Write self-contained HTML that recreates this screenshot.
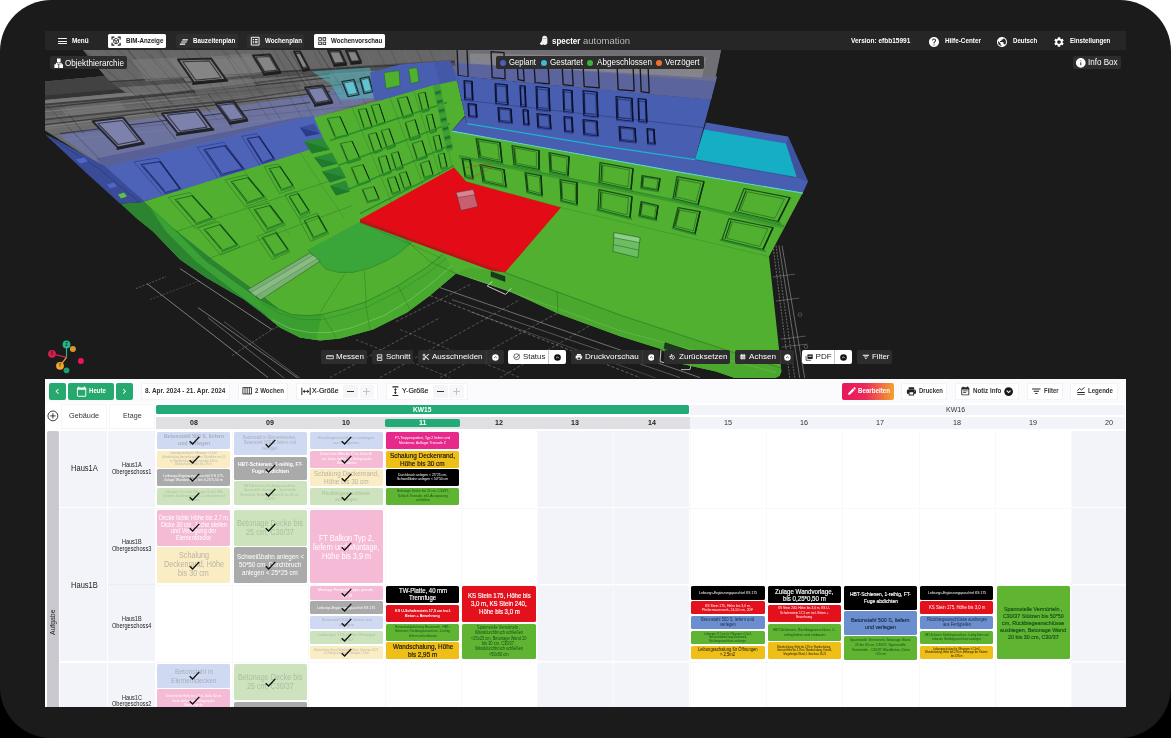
<!DOCTYPE html>
<html><head><meta charset="utf-8"><title>BIM</title>
<style>
html,body{margin:0;padding:0}
body{width:1171px;height:738px;overflow:hidden;background:linear-gradient(#fff 0,#fff 369px,#000 369px,#000 738px);font-family:"Liberation Sans",sans-serif;position:relative}
.b{position:absolute;display:block}
.t{position:absolute;white-space:nowrap;transform-origin:0 50%;display:block}
#frame{will-change:transform;position:absolute;left:0;top:0;width:1171px;height:738px;background:#1b1b1b;border-radius:51px;overflow:hidden}
</style></head><body>
<div id="frame">
<svg class="b" style="left:45px;top:50.4px" width="1080.5" height="328.1" viewBox="45 50.4 1080.5 328.1"><rect x="45" y="50.4" width="1081" height="329" fill="#1b1b1b"/><polyline points="180.0,269.0 272.0,330.0" fill="none" stroke="#cfcfcf" stroke-width="0.6" opacity="0.9"/><polyline points="147.0,284.0 268.0,378.0" fill="none" stroke="#cfcfcf" stroke-width="0.6" opacity="0.9"/><polyline points="198.0,308.0 300.0,380.0" fill="none" stroke="#cfcfcf" stroke-width="0.6" opacity="0.85"/><polyline points="208.0,318.0 286.0,380.0" fill="none" stroke="#cfcfcf" stroke-width="0.5" opacity="0.8"/><polyline points="224.0,322.0 302.0,380.0" fill="none" stroke="#cfcfcf" stroke-width="0.45" opacity="0.7"/><polyline points="136.0,289.0 166.0,277.0" fill="none" stroke="#cfcfcf" stroke-width="0.5" opacity="0.7" stroke-dasharray="2 1.5"/><polyline points="150.0,300.0 200.0,281.0" fill="none" stroke="#cfcfcf" stroke-width="0.4" opacity="0.6" stroke-dasharray="2 1.5"/><polyline points="232.0,356.0 272.0,330.0 330.0,300.0" fill="none" stroke="#cfcfcf" stroke-width="0.5" opacity="0.7" stroke-dasharray="2.5 1.5"/><polyline points="396.0,322.0 470.0,285.0" fill="none" stroke="#cfcfcf" stroke-width="0.5" opacity="0.65" stroke-dasharray="3 2"/><polyline points="330.0,378.0 440.0,318.0" fill="none" stroke="#cfcfcf" stroke-width="0.5" opacity="0.65" stroke-dasharray="3 2"/><polyline points="380.0,378.0 520.0,300.0" fill="none" stroke="#cfcfcf" stroke-width="0.5" opacity="0.65" stroke-dasharray="3 2"/><polyline points="440.0,378.0 560.0,312.0" fill="none" stroke="#cfcfcf" stroke-width="0.5" opacity="0.65" stroke-dasharray="3 2"/><polyline points="500.0,378.0 590.0,326.0" fill="none" stroke="#cfcfcf" stroke-width="0.5" opacity="0.65" stroke-dasharray="3 2"/><polyline points="440.0,288.0 700.0,378.0" fill="none" stroke="#cfcfcf" stroke-width="0.6" opacity="0.8"/><polyline points="430.0,296.0 640.0,378.0" fill="none" stroke="#cfcfcf" stroke-width="0.5" opacity="0.8" stroke-dasharray="3 2"/><polyline points="452.0,300.0 680.0,378.0" fill="none" stroke="#cfcfcf" stroke-width="0.5" opacity="0.7"/><polyline points="470.0,312.0 660.0,380.0" fill="none" stroke="#cfcfcf" stroke-width="0.4" opacity="0.6"/><polyline points="400.0,330.0 520.0,378.0" fill="none" stroke="#cfcfcf" stroke-width="0.5" opacity="0.6" stroke-dasharray="3 2"/><polyline points="356.0,340.0 450.0,378.0" fill="none" stroke="#cfcfcf" stroke-width="0.5" opacity="0.6" stroke-dasharray="3 2"/><polyline points="773.0,246.0 790.0,380.0" fill="none" stroke="#cfcfcf" stroke-width="0.55" opacity="0.8" stroke-dasharray="2 1.2"/><polyline points="776.0,246.0 795.0,380.0" fill="none" stroke="#cfcfcf" stroke-width="0.55" opacity="0.8" stroke-dasharray="2 1.2"/><polyline points="779.0,246.0 800.0,380.0" fill="none" stroke="#cfcfcf" stroke-width="0.55" opacity="0.8"/><polyline points="782.0,246.0 805.0,380.0" fill="none" stroke="#cfcfcf" stroke-width="0.55" opacity="0.8"/><polyline points="772.8,277.5 795.1,274.5" fill="none" stroke="#cfcfcf" stroke-width="0.45" opacity="0.7"/><polyline points="775.9,301.5 799.3,298.5" fill="none" stroke="#cfcfcf" stroke-width="0.45" opacity="0.7"/><polyline points="780.7,339.5 805.8,336.5" fill="none" stroke="#cfcfcf" stroke-width="0.45" opacity="0.7"/><polyline points="781.7,347.5 807.2,344.5" fill="none" stroke="#cfcfcf" stroke-width="0.45" opacity="0.7"/><circle cx="800" cy="315" r="1.800" fill="none" stroke="#cfcfcf" stroke-width="0.400" opacity="0.700"/><circle cx="806" cy="347" r="1.800" fill="none" stroke="#cfcfcf" stroke-width="0.400" opacity="0.700"/><polygon points="45.0,82.0 105.0,76.5 83.0,50.4 721.0,50.4 711.0,100.0 600.0,90.0 457.0,76.0 450.0,130.0 300.0,128.0 104.0,168.0 45.0,131.0" fill="#6b6b6b"/><polygon points="45.0,82.0 105.0,76.5 116.0,86.0 132.0,92.5 45.0,100.0" fill="#424242"/><polygon points="45.0,96.0 128.0,89.0 132.0,92.5 45.0,100.5" fill="#343434"/><polygon points="45.0,100.5 132.0,92.5 138.0,96.0 45.0,105.0" fill="#747474"/><polygon points="45.0,105.0 300.0,80.0 300.0,92.0 45.0,117.0" fill="#626262"/><polygon points="45.0,117.0 300.0,92.0 300.0,98.0 45.0,123.0" fill="#6f6f6f"/><polygon points="83.0,50.4 460.0,50.4 460.0,60.0 110.0,82.0 105.0,76.5" fill="#676767"/><polygon points="110.0,82.0 460.0,60.0 460.0,66.0 118.0,88.0" fill="#505050"/><polygon points="118.0,88.0 460.0,66.0 460.0,72.0 126.0,93.0" fill="#6c6c6c"/><polygon points="170.0,60.0 250.0,54.0 262.0,72.0 186.0,82.0" fill="#747474" stroke="None" stroke-width="0.5" stroke-linejoin="round"/><polygon points="58.0,135.0 128.0,122.0 230.0,108.0 310.0,95.0 372.0,82.0 374.0,100.0 314.0,118.0 104.0,168.0" fill="#6d739f"/><polygon points="96.0,159.0 296.0,118.0 314.0,116.0 104.0,168.0" fill="#596098"/><polyline points="45.0,108.0 330.0,78.0" fill="none" stroke="#2b2b2b" stroke-width="1.1" opacity="0.75"/><polyline points="45.0,125.0 330.0,92.0" fill="none" stroke="#2b2b2b" stroke-width="1.1" opacity="0.75"/><polyline points="60.0,134.0 310.0,103.0" fill="none" stroke="#2b2b2b" stroke-width="1.1" opacity="0.75"/><polyline points="110.0,82.0 460.0,62.0" fill="none" stroke="#2b2b2b" stroke-width="1.1" opacity="0.75"/><polyline points="83.0,50.4 132.0,92.0" fill="none" stroke="#333" stroke-width="0.7" opacity="0.6"/><polyline points="132.0,92.0 150.0,112.0" fill="none" stroke="#333" stroke-width="0.7" opacity="0.6"/><polyline points="150.0,55.0 210.0,112.0" fill="none" stroke="#333" stroke-width="0.7" opacity="0.6"/><polyline points="225.0,52.0 262.0,95.0" fill="none" stroke="#333" stroke-width="0.7" opacity="0.6"/><polyline points="290.0,52.0 320.0,100.0" fill="none" stroke="#333" stroke-width="0.7" opacity="0.6"/><polyline points="45.0,104.0 100.0,160.0" fill="none" stroke="#333" stroke-width="0.7" opacity="0.6"/><polyline points="45.0,105.0 162.0,95.0" fill="none" stroke="#3a3a3a" stroke-width="2.0" opacity="0.85"/><polyline points="162.0,95.0 330.0,74.0" fill="none" stroke="#3a3a3a" stroke-width="1.6" opacity="0.85"/><polyline points="45.0,120.0 240.0,100.0" fill="none" stroke="#404040" stroke-width="2.0" opacity="0.85"/><polyline points="240.0,100.0 372.0,80.0" fill="none" stroke="#40404a" stroke-width="1.6" opacity="0.85"/><polyline points="45.0,112.0 200.0,97.0" fill="none" stroke="#8a8a8a" stroke-width="0.8" opacity="0.85"/><polyline points="45.0,127.0 150.0,114.0" fill="none" stroke="#8c8c8c" stroke-width="0.8" opacity="0.85"/><polyline points="128.0,50.4 172.0,105.0" fill="none" stroke="#2e2e2e" stroke-width="1.0" opacity="0.55"/><polyline points="160.0,50.4 196.0,96.0" fill="none" stroke="#2e2e2e" stroke-width="1.0" opacity="0.55"/><polyline points="236.0,50.4 252.0,72.0" fill="none" stroke="#2e2e2e" stroke-width="1.0" opacity="0.55"/><polyline points="282.0,50.4 318.0,104.0" fill="none" stroke="#2e2e2e" stroke-width="1.0" opacity="0.55"/><polyline points="318.0,50.4 344.0,92.0" fill="none" stroke="#2e2e2e" stroke-width="1.0" opacity="0.55"/><polyline points="60.0,104.0 84.0,134.0" fill="none" stroke="#2e2e2e" stroke-width="1.0" opacity="0.55"/><polyline points="140.0,94.0 176.0,140.0" fill="none" stroke="#2e2e2e" stroke-width="1.0" opacity="0.55"/><polyline points="208.0,94.0 232.0,128.0" fill="none" stroke="#2e2e2e" stroke-width="1.0" opacity="0.55"/><polygon points="132.0,60.0 176.0,58.0 190.0,78.0 146.0,82.0" fill="#7c7c7c" stroke="None" stroke-width="0.5" stroke-linejoin="round" opacity="0.6"/><polygon points="214.0,60.0 250.0,57.0 262.0,74.0 226.0,78.0" fill="#7e7e7e" stroke="None" stroke-width="0.5" stroke-linejoin="round" opacity="0.6"/><polygon points="60.0,108.0 120.0,102.0 126.0,110.0 66.0,116.0" fill="#7a7a7a" stroke="None" stroke-width="0.5" stroke-linejoin="round" opacity="0.6"/><polygon points="190.0,84.0 250.0,78.0 256.0,86.0 196.0,93.0" fill="#777" stroke="None" stroke-width="0.5" stroke-linejoin="round" opacity="0.6"/><clipPath id="gclip"><polygon points="45.0,82.0 105.0,76.5 83.0,50.4 460.0,50.4 457.0,76.0 450.0,130.0 300.0,128.0 104.0,168.0 45.0,134.0"/></clipPath><g clip-path="url(#gclip)"><polyline points="92.0,50.4 174.4,120.4" fill="none" stroke="#9a9a9a" stroke-width="0.55" opacity="0.3"/><polyline points="105.0,50.4 181.8,120.4" fill="none" stroke="#262626" stroke-width="0.55" opacity="0.38"/><polyline points="118.0,50.4 189.9,120.4" fill="none" stroke="#262626" stroke-width="0.55" opacity="0.38"/><polyline points="131.0,50.4 198.6,120.4" fill="none" stroke="#9a9a9a" stroke-width="0.55" opacity="0.3"/><polyline points="144.0,50.4 207.8,120.4" fill="none" stroke="#262626" stroke-width="0.55" opacity="0.38"/><polyline points="157.0,50.4 217.4,120.4" fill="none" stroke="#262626" stroke-width="0.55" opacity="0.38"/><polyline points="170.0,50.4 227.4,120.4" fill="none" stroke="#9a9a9a" stroke-width="0.55" opacity="0.3"/><polyline points="183.0,50.4 237.6,120.4" fill="none" stroke="#262626" stroke-width="0.55" opacity="0.38"/><polyline points="196.0,50.4 248.1,120.4" fill="none" stroke="#262626" stroke-width="0.55" opacity="0.38"/><polyline points="209.0,50.4 258.8,120.4" fill="none" stroke="#9a9a9a" stroke-width="0.55" opacity="0.3"/><polyline points="222.0,50.4 269.7,120.4" fill="none" stroke="#262626" stroke-width="0.55" opacity="0.38"/><polyline points="235.0,50.4 280.8,120.4" fill="none" stroke="#262626" stroke-width="0.55" opacity="0.38"/><polyline points="248.0,50.4 292.0,120.4" fill="none" stroke="#9a9a9a" stroke-width="0.55" opacity="0.3"/><polyline points="261.0,50.4 303.4,120.4" fill="none" stroke="#262626" stroke-width="0.55" opacity="0.38"/><polyline points="274.0,50.4 314.8,120.4" fill="none" stroke="#262626" stroke-width="0.55" opacity="0.38"/><polyline points="287.0,50.4 326.4,120.4" fill="none" stroke="#9a9a9a" stroke-width="0.55" opacity="0.3"/><polyline points="300.0,50.4 329.9,105.4" fill="none" stroke="#262626" stroke-width="0.55" opacity="0.38"/><polyline points="313.0,50.4 342.0,105.4" fill="none" stroke="#262626" stroke-width="0.55" opacity="0.38"/><polyline points="326.0,50.4 354.0,105.4" fill="none" stroke="#9a9a9a" stroke-width="0.55" opacity="0.3"/><polyline points="339.0,50.4 366.2,105.4" fill="none" stroke="#262626" stroke-width="0.55" opacity="0.38"/><polyline points="352.0,50.4 378.4,105.4" fill="none" stroke="#262626" stroke-width="0.55" opacity="0.38"/><polyline points="365.0,50.4 390.6,105.4" fill="none" stroke="#9a9a9a" stroke-width="0.55" opacity="0.3"/><polyline points="378.0,50.4 402.9,105.4" fill="none" stroke="#262626" stroke-width="0.55" opacity="0.38"/><polyline points="391.0,50.4 415.2,105.4" fill="none" stroke="#262626" stroke-width="0.55" opacity="0.38"/><polyline points="404.0,50.4 427.6,105.4" fill="none" stroke="#9a9a9a" stroke-width="0.55" opacity="0.3"/><polyline points="417.0,50.4 440.0,105.4" fill="none" stroke="#262626" stroke-width="0.55" opacity="0.38"/><polyline points="430.0,50.4 452.4,105.4" fill="none" stroke="#262626" stroke-width="0.55" opacity="0.38"/><polyline points="443.0,50.4 464.9,105.4" fill="none" stroke="#9a9a9a" stroke-width="0.55" opacity="0.3"/><polyline points="45.0,103.0 400.0,69.3" fill="none" stroke="#a0a0a0" stroke-width="0.5" opacity="0.33"/><polyline points="45.0,110.0 400.0,76.3" fill="none" stroke="#262626" stroke-width="0.5" opacity="0.33"/><polyline points="45.0,115.0 400.0,81.3" fill="none" stroke="#a0a0a0" stroke-width="0.5" opacity="0.33"/><polyline points="45.0,122.0 400.0,88.3" fill="none" stroke="#262626" stroke-width="0.5" opacity="0.33"/><polyline points="45.0,129.0 400.0,95.3" fill="none" stroke="#a0a0a0" stroke-width="0.5" opacity="0.33"/><polyline points="45.0,136.0 400.0,102.3" fill="none" stroke="#262626" stroke-width="0.5" opacity="0.33"/><polyline points="45.0,142.0 400.0,108.3" fill="none" stroke="#a0a0a0" stroke-width="0.5" opacity="0.33"/></g><polygon points="178.0,60.0 211.0,59.0 226.0,80.0 194.0,83.0" fill="#858585" stroke="#242424" stroke-width="2.0" stroke-linejoin="round"/><polygon points="182.8,62.1 209.2,61.3 221.2,78.1 195.7,80.5" fill="none" stroke="#242424" stroke-width="1.1" stroke-linejoin="round" opacity="0.8"/><polygon points="192.1,83.2 227.9,79.8 228.2,82.0 192.4,85.4" fill="#1e1e1e"/><polygon points="253.0,56.0 270.0,55.0 280.0,72.0 264.0,74.0" fill="#858585" stroke="#242424" stroke-width="2.0" stroke-linejoin="round"/><polygon points="255.8,57.6 269.4,56.9 277.4,70.5 264.6,72.0" fill="none" stroke="#242424" stroke-width="1.1" stroke-linejoin="round" opacity="0.8"/><polygon points="263.0,74.1 281.0,71.9 281.3,74.1 263.3,76.3" fill="#1e1e1e"/><polygon points="294.0,52.0 300.0,52.0 309.0,69.0 303.0,70.0" fill="#858585" stroke="#242424" stroke-width="2.0" stroke-linejoin="round"/><polygon points="295.5,53.8 300.3,53.8 307.5,67.3 302.7,68.2" fill="none" stroke="#242424" stroke-width="1.1" stroke-linejoin="round" opacity="0.8"/><polygon points="302.6,70.1 309.4,68.9 309.7,71.1 302.9,72.3" fill="#1e1e1e"/><polygon points="328.0,51.0 340.0,51.0 346.0,64.0 334.0,65.0" fill="#858585" stroke="#242424" stroke-width="2.0" stroke-linejoin="round"/><polygon points="329.8,52.4 339.4,52.4 344.2,62.8 334.6,63.5" fill="none" stroke="#242424" stroke-width="1.1" stroke-linejoin="round" opacity="0.8"/><polygon points="333.3,65.1 346.7,63.9 347.0,66.1 333.6,67.3" fill="#1e1e1e"/><polygon points="346.0,51.0 356.0,51.0 361.0,62.0 351.0,63.0" fill="#858585" stroke="#242424" stroke-width="2.0" stroke-linejoin="round"/><polygon points="347.5,52.1 355.5,52.1 359.5,61.0 351.5,61.8" fill="none" stroke="#242424" stroke-width="1.1" stroke-linejoin="round" opacity="0.8"/><polygon points="350.4,63.1 361.6,61.9 361.9,64.1 350.7,65.3" fill="#1e1e1e"/><polygon points="92.5,121.7 123.0,118.0 143.0,143.0 118.0,148.0" fill="#7d82ac" stroke="#26262c" stroke-width="2.0" stroke-linejoin="round"/><polygon points="97.8,123.9 122.2,120.9 138.2,140.9 118.2,144.9" fill="none" stroke="#26262c" stroke-width="1.1" stroke-linejoin="round" opacity="0.8"/><polygon points="116.5,148.3 144.5,142.7 144.8,144.9 116.8,150.5" fill="#202028"/><polygon points="162.0,114.0 198.0,110.0 212.0,129.0 178.0,134.0" fill="#7d82ac" stroke="#26262c" stroke-width="2.0" stroke-linejoin="round"/><polygon points="167.1,115.5 195.9,112.3 207.1,127.5 179.9,131.6" fill="none" stroke="#26262c" stroke-width="1.1" stroke-linejoin="round" opacity="0.8"/><polygon points="176.0,134.3 214.0,128.7 214.3,130.9 176.3,136.5" fill="#202028"/><polygon points="216.0,104.0 234.0,102.0 247.0,120.0 230.0,123.0" fill="#7d82ac" stroke="#26262c" stroke-width="2.0" stroke-linejoin="round"/><polygon points="219.2,105.7 233.6,104.0 243.9,118.5 230.3,120.8" fill="none" stroke="#26262c" stroke-width="1.1" stroke-linejoin="round" opacity="0.8"/><polygon points="229.0,123.2 248.0,119.8 248.3,122.0 229.3,125.4" fill="#202028"/><polygon points="305.0,88.0 323.0,86.0 332.0,102.0 315.0,105.0" fill="#7d82ac" stroke="#26262c" stroke-width="2.0" stroke-linejoin="round"/><polygon points="307.8,89.5 322.1,87.8 329.4,100.7 315.8,103.0" fill="none" stroke="#26262c" stroke-width="1.1" stroke-linejoin="round" opacity="0.8"/><polygon points="314.0,105.2 333.0,101.8 333.3,104.0 314.3,107.4" fill="#202028"/><polygon points="312.0,72.0 370.0,68.0 378.0,98.0 340.0,100.0 330.0,84.0" fill="#4fb4c0" stroke="None" stroke-width="0.5" stroke-linejoin="round" opacity="0.55"/><polygon points="342.0,82.0 354.0,80.0 359.0,95.0 348.0,97.0" fill="#63c3cf" stroke="#1b2a30" stroke-width="1.3" stroke-linejoin="round"/><polygon points="343.8,83.3 353.4,81.7 357.4,93.7 348.6,95.3" fill="none" stroke="#1b2a30" stroke-width="0.7150000000000001" stroke-linejoin="round" opacity="0.8"/><polygon points="360.0,79.0 369.0,77.0 373.0,92.0 364.0,94.0" fill="#63c3cf" stroke="#1b2a30" stroke-width="1.3" stroke-linejoin="round"/><polygon points="361.3,80.3 368.5,78.7 371.7,90.7 364.5,92.3" fill="none" stroke="#1b2a30" stroke-width="0.7150000000000001" stroke-linejoin="round" opacity="0.8"/><polygon points="455.0,50.4 721.0,50.4 711.0,100.0 600.0,90.0 457.0,76.0" fill="#707074"/><polygon points="455.0,63.5 600.0,73.0 716.0,81.5 711.0,100.0 600.0,90.0 457.0,76.0" fill="#5c649e"/><polygon points="455.0,60.0 600.0,69.0 717.0,77.0 716.0,81.5 600.0,73.0 455.0,63.5" fill="#6c6f8c"/><polygon points="470.0,54.0 706.0,58.0 702.0,78.0 470.0,64.0" fill="#9a9a9e" stroke="None" stroke-width="0.5" stroke-linejoin="round" opacity="0.5"/><polygon points="457.0,48.0 467.0,49.0 468.2,77.2 458.2,76.0" fill="none" stroke="#15151c" stroke-width="1.3" stroke-linejoin="round"/><polygon points="491.0,52.0 504.0,53.0 505.2,79.2 492.2,78.0" fill="none" stroke="#15151c" stroke-width="1.3" stroke-linejoin="round"/><polygon points="517.0,63.0 523.0,64.0 524.2,81.2 518.2,80.0" fill="none" stroke="#15151c" stroke-width="1.3" stroke-linejoin="round"/><polygon points="534.0,64.0 548.0,65.0 549.2,84.2 535.2,83.0" fill="none" stroke="#15151c" stroke-width="1.3" stroke-linejoin="round"/><polygon points="562.0,64.0 572.0,65.0 573.2,86.2 563.2,85.0" fill="none" stroke="#15151c" stroke-width="1.3" stroke-linejoin="round"/><polygon points="583.0,64.0 598.0,65.0 599.2,88.2 584.2,87.0" fill="none" stroke="#15151c" stroke-width="1.3" stroke-linejoin="round"/><polygon points="617.0,64.0 633.0,65.0 634.2,91.2 618.2,90.0" fill="none" stroke="#15151c" stroke-width="1.3" stroke-linejoin="round"/><polygon points="640.0,64.0 648.0,65.0 649.2,93.2 641.2,92.0" fill="none" stroke="#15151c" stroke-width="1.3" stroke-linejoin="round"/><polygon points="104.0,168.0 314.0,116.0 328.0,146.0 144.0,202.0" fill="#4d63b8"/><polygon points="133.8,162.2 158.1,158.3 183.7,192.9 164.5,198.0" fill="none" stroke="#26337a" stroke-width="0.6" stroke-linejoin="round" opacity="0.9"/><polygon points="141.0,165.0 160.0,162.0 180.0,189.0 165.0,193.0" fill="none" stroke="#26337a" stroke-width="1.1" stroke-linejoin="round"/><polyline points="160.0,162.0 180.0,189.0" fill="none" stroke="#1a2460" stroke-width="1.375"/><polyline points="143.5,166.5 164.6,191.1" fill="none" stroke="#1a2460" stroke-width="0.9900000000000001" opacity="0.85"/><polygon points="164.1,193.2 180.9,188.8 181.2,190.6 164.4,195.0" fill="#33439a"/><polygon points="197.1,147.8 224.0,142.7 247.0,172.1 218.9,179.8" fill="none" stroke="#26337a" stroke-width="0.6" stroke-linejoin="round" opacity="0.9"/><polygon points="204.0,150.0 225.0,146.0 243.0,169.0 221.0,175.0" fill="none" stroke="#26337a" stroke-width="1.1" stroke-linejoin="round"/><polyline points="225.0,146.0 243.0,169.0" fill="none" stroke="#1a2460" stroke-width="1.375"/><polyline points="206.3,151.2 221.3,173.2" fill="none" stroke="#1a2460" stroke-width="0.9900000000000001" opacity="0.85"/><polygon points="219.7,175.4 244.3,168.6 244.6,170.4 220.0,177.2" fill="#33439a"/><polygon points="241.7,136.7 257.1,134.1 276.3,162.3 260.9,167.4" fill="none" stroke="#26337a" stroke-width="0.6" stroke-linejoin="round" opacity="0.9"/><polygon points="247.0,139.0 259.0,137.0 274.0,159.0 262.0,163.0" fill="none" stroke="#26337a" stroke-width="1.1" stroke-linejoin="round"/><polyline points="259.0,137.0 274.0,159.0" fill="none" stroke="#1a2460" stroke-width="1.375"/><polyline points="248.6,140.3 261.8,161.4" fill="none" stroke="#1a2460" stroke-width="0.9900000000000001" opacity="0.85"/><polygon points="261.3,163.2 274.7,158.8 275.0,160.6 261.6,165.0" fill="#33439a"/><polygon points="144.0,202.0 326.0,145.0 314.0,118.0 380.0,101.0 432.0,86.0 457.0,81.0 465.0,116.0 452.0,131.0 674.0,171.0 803.0,193.0 769.0,257.0 773.7,300.0 781.4,372.0 779.5,376.5 775.0,378.5 735.0,378.5 716.0,372.0 680.0,364.0 661.0,349.5 620.0,336.7 558.0,314.0 510.0,292.0 456.0,274.0 430.0,296.0 407.0,313.0 373.0,330.0 340.0,339.0 320.0,341.0 300.0,338.0 280.0,328.0 260.0,312.0 244.0,300.0 206.0,278.0 180.0,260.0 153.0,232.0 135.7,218.0 125.0,207.0" fill="#52b031"/><polygon points="86.3,173.3 120.0,204.0 145.0,202.7 170.0,226.0 215.0,262.0 262.0,296.0 300.0,326.0 330.0,338.0 300.0,338.0 280.0,328.0 260.0,312.0 244.0,300.0 206.0,278.0 180.0,260.0 153.0,232.0 135.7,218.0" fill="#2c8430"/><polygon points="45.0,134.7 58.0,141.0 105.0,166.7 145.0,202.7 120.0,204.0 86.3,173.3" fill="#3a4b98"/><polyline points="52.0,139.0 100.0,170.0 140.0,203.0" fill="none" stroke="#22306e" stroke-width="0.6" opacity="0.8"/><polygon points="76.0,160.0 84.0,158.0 88.0,162.0 80.0,164.0" fill="#4f66c8"/><polygon points="107.0,185.0 114.0,183.0 117.0,187.0 110.0,189.0" fill="#4f66c8"/><polygon points="118.0,195.0 124.0,193.0 127.0,197.0 121.0,199.0" fill="#5fc04a"/><polygon points="150.0,208.0 176.0,232.0 206.0,262.0 248.0,292.0 290.0,322.0 270.0,318.0 232.0,290.0 196.0,262.0 166.0,232.0" fill="#3aa234"/><polygon points="256.6,298.4 275.0,308.0 291.5,314.8 307.0,316.0 322.2,314.8 345.0,309.0 365.3,302.5 398.0,286.0 426.8,267.6 443.0,254.3 456.0,274.0 430.0,296.0 407.0,313.0 373.0,330.0 340.0,339.0 320.0,341.0 300.0,338.0 280.0,328.0 268.0,318.0" fill="#48aa2f"/><polygon points="256.6,298.4 275.0,308.0 291.5,314.8 307.0,316.0 322.0,315.0 316.0,340.5 300.0,338.0 280.0,328.0 266.0,316.0" fill="#379c2e" stroke="None" stroke-width="0.5" stroke-linejoin="round" opacity="0.8"/><polyline points="256.6,298.4 275.0,308.0 291.5,314.8 307.0,316.0 322.2,314.8 345.0,309.0 365.3,302.5 398.0,286.0 426.8,267.6 443.0,254.3" fill="none" stroke="#1d6b1f" stroke-width="0.6" opacity="0.85"/><polyline points="262.0,304.0 280.0,314.0 300.0,320.0 322.0,320.0 346.0,314.0 368.0,307.0 400.0,291.0 430.0,272.0 447.0,258.0" fill="none" stroke="#1d6b1f" stroke-width="0.4" opacity="0.7"/><polyline points="272.0,320.0 290.0,329.0 310.0,333.0 330.0,333.0 352.0,328.0 384.0,316.0 412.0,299.0 436.0,280.0 452.0,266.0" fill="none" stroke="#b4e0a6" stroke-width="0.5" opacity="0.75"/><polygon points="307.9,250.2 361.2,221.5 412.4,242.0 400.0,253.0 385.8,261.5 369.4,268.7 353.0,272.8 338.6,272.8 326.3,269.7 318.0,261.5" fill="#3aa538"/><polyline points="412.4,242.0 400.0,253.0 385.8,261.5 369.4,268.7 353.0,272.8 338.6,272.8 326.3,269.7 318.0,261.5 307.9,250.2" fill="none" stroke="#1d6b1f" stroke-width="0.5" opacity="0.85"/><polyline points="344.8,273.8 320.2,312.7" fill="none" stroke="#1d6b1f" stroke-width="0.45" opacity="0.8"/><polyline points="364.3,270.7 366.3,302.5" fill="none" stroke="#1d6b1f" stroke-width="0.45" opacity="0.8"/><polyline points="322.2,314.8 336.0,338.0" fill="none" stroke="#1d6b1f" stroke-width="0.45" opacity="0.8"/><polyline points="365.3,302.5 370.0,330.0" fill="none" stroke="#1d6b1f" stroke-width="0.45" opacity="0.8"/><polyline points="398.0,286.0 410.0,310.0" fill="none" stroke="#1d6b1f" stroke-width="0.45" opacity="0.8"/><polygon points="247.4,290.2 310.0,253.3 320.2,261.5 260.7,300.4" fill="#7db077" stroke="#2a5c2a" stroke-width="0.6" stroke-linejoin="round" opacity="0.95"/><polyline points="251.0,293.0 313.0,256.0" fill="none" stroke="#2a5c2a" stroke-width="0.5"/><polyline points="255.5,296.5 317.0,259.0" fill="none" stroke="#3d7a3a" stroke-width="0.5"/><polygon points="251.0,293.0 313.0,256.0 317.0,259.0 255.5,296.5" fill="#92c08c" stroke="None" stroke-width="0.5" stroke-linejoin="round" opacity="0.7"/><polyline points="176.0,232.0 340.0,178.0" fill="none" stroke="#1d6b1f" stroke-width="0.5" opacity="0.75"/><polyline points="206.0,260.0 352.0,206.0" fill="none" stroke="#1d6b1f" stroke-width="0.5" opacity="0.75"/><polyline points="244.0,171.0 262.0,196.0" fill="none" stroke="#1d6b1f" stroke-width="0.4" opacity="0.6"/><polyline points="300.0,153.0 322.0,186.0" fill="none" stroke="#1d6b1f" stroke-width="0.4" opacity="0.6"/><polyline points="262.0,196.0 290.0,236.0" fill="none" stroke="#1d6b1f" stroke-width="0.4" opacity="0.6"/><polyline points="322.0,186.0 344.0,218.0" fill="none" stroke="#1d6b1f" stroke-width="0.4" opacity="0.6"/><polygon points="168.2,197.9 190.0,192.8 215.6,221.0 195.1,228.7" fill="none" stroke="#1f6f22" stroke-width="0.6" stroke-linejoin="round" opacity="0.9"/><polygon points="175.0,200.0 192.0,196.0 212.0,218.0 196.0,224.0" fill="none" stroke="#1f6f22" stroke-width="1.0" stroke-linejoin="round"/><polyline points="192.0,196.0 212.0,218.0" fill="none" stroke="#114a14" stroke-width="1.25"/><polyline points="177.2,201.1 195.7,222.3" fill="none" stroke="#114a14" stroke-width="0.9" opacity="0.85"/><polygon points="195.0,224.4 213.0,217.6 213.3,219.4 195.3,226.2" fill="#2f8f2b"/><polygon points="224.9,180.4 246.6,175.2 267.1,199.6 245.4,207.2" fill="none" stroke="#1f6f22" stroke-width="0.6" stroke-linejoin="round" opacity="0.9"/><polygon points="231.0,182.0 248.0,178.0 264.0,197.0 247.0,203.0" fill="none" stroke="#1f6f22" stroke-width="1.0" stroke-linejoin="round"/><polyline points="248.0,178.0 264.0,197.0" fill="none" stroke="#114a14" stroke-width="1.25"/><polyline points="233.0,183.0 247.1,201.4" fill="none" stroke="#114a14" stroke-width="0.9" opacity="0.85"/><polygon points="246.0,203.4 265.0,196.6 265.3,198.4 246.3,205.2" fill="#2f8f2b"/><polygon points="264.2,167.1 278.3,164.5 294.9,188.8 279.6,194.0" fill="none" stroke="#1f6f22" stroke-width="0.6" stroke-linejoin="round" opacity="0.9"/><polygon points="269.0,169.0 280.0,167.0 293.0,186.0 281.0,190.0" fill="none" stroke="#1f6f22" stroke-width="1.0" stroke-linejoin="round"/><polyline points="280.0,167.0 293.0,186.0" fill="none" stroke="#114a14" stroke-width="1.25"/><polyline points="270.4,170.1 281.0,188.6" fill="none" stroke="#114a14" stroke-width="0.9" opacity="0.85"/><polygon points="280.3,190.2 293.7,185.8 294.0,187.6 280.6,192.0" fill="#2f8f2b"/><polygon points="197.8,228.4 218.3,222.0 240.1,247.6 220.8,255.3" fill="none" stroke="#1f6f22" stroke-width="0.6" stroke-linejoin="round" opacity="0.9"/><polygon points="204.0,230.0 220.0,225.0 237.0,245.0 222.0,251.0" fill="none" stroke="#1f6f22" stroke-width="1.0" stroke-linejoin="round"/><polyline points="220.0,225.0 237.0,245.0" fill="none" stroke="#114a14" stroke-width="1.25"/><polyline points="206.0,230.9 221.8,249.4" fill="none" stroke="#114a14" stroke-width="0.9" opacity="0.85"/><polygon points="221.1,251.4 237.9,244.6 238.2,246.4 221.4,253.2" fill="#2f8f2b"/><polygon points="248.4,208.6 268.9,203.5 285.6,225.3 265.1,233.0" fill="none" stroke="#1f6f22" stroke-width="0.6" stroke-linejoin="round" opacity="0.9"/><polygon points="254.0,210.0 270.0,206.0 283.0,223.0 267.0,229.0" fill="none" stroke="#1f6f22" stroke-width="1.0" stroke-linejoin="round"/><polyline points="270.0,206.0 283.0,223.0" fill="none" stroke="#114a14" stroke-width="1.25"/><polyline points="255.7,210.8 267.2,227.6" fill="none" stroke="#114a14" stroke-width="0.9" opacity="0.85"/><polygon points="266.0,229.4 284.0,222.6 284.3,224.4 266.3,231.2" fill="#2f8f2b"/><polygon points="284.7,195.6 296.2,191.7 310.3,213.5 298.8,218.6" fill="none" stroke="#1f6f22" stroke-width="0.6" stroke-linejoin="round" opacity="0.9"/><polygon points="289.0,197.0 298.0,194.0 309.0,211.0 300.0,215.0" fill="none" stroke="#1f6f22" stroke-width="1.0" stroke-linejoin="round"/><polyline points="298.0,194.0 309.0,211.0" fill="none" stroke="#114a14" stroke-width="1.25"/><polyline points="290.2,197.9 299.9,213.7" fill="none" stroke="#114a14" stroke-width="0.9" opacity="0.85"/><polygon points="299.5,215.2 309.5,210.8 309.8,212.6 299.8,217.0" fill="#2f8f2b"/><polygon points="299.3,220.0 317.2,213.6 328.7,234.1 310.8,241.8" fill="none" stroke="#1f6f22" stroke-width="0.6" stroke-linejoin="round" opacity="0.9"/><polygon points="304.0,221.0 318.0,216.0 327.0,232.0 313.0,238.0" fill="none" stroke="#1f6f22" stroke-width="1.0" stroke-linejoin="round"/><polyline points="318.0,216.0 327.0,232.0" fill="none" stroke="#114a14" stroke-width="1.25"/><polyline points="305.4,221.7 313.3,236.7" fill="none" stroke="#114a14" stroke-width="0.9" opacity="0.85"/><polygon points="312.2,238.4 327.8,231.6 328.1,233.4 312.5,240.2" fill="#2f8f2b"/><polygon points="256.9,236.8 274.8,230.4 290.1,252.2 272.2,259.9" fill="none" stroke="#1f6f22" stroke-width="0.6" stroke-linejoin="round" opacity="0.9"/><polygon points="262.0,238.0 276.0,233.0 288.0,250.0 274.0,256.0" fill="none" stroke="#1f6f22" stroke-width="1.0" stroke-linejoin="round"/><polyline points="276.0,233.0 288.0,250.0" fill="none" stroke="#114a14" stroke-width="1.25"/><polyline points="263.6,238.8 274.1,254.6" fill="none" stroke="#114a14" stroke-width="0.9" opacity="0.85"/><polygon points="273.2,256.4 288.8,249.6 289.1,251.4 273.5,258.2" fill="#2f8f2b"/><polygon points="300.0,128.0 314.0,124.0 320.0,134.0 306.0,137.0" fill="#3a4ea0"/><polygon points="300.0,128.0 320.0,134.0 306.0,137.0" fill="#2a3c88"/><polygon points="304.0,142.0 322.0,138.0 330.0,150.0 312.0,154.0" fill="#2a8a35"/><polygon points="304.0,142.0 330.0,150.0 312.0,154.0" fill="#1f7a2c"/><polygon points="314.0,158.0 332.0,153.0 338.0,164.0 322.0,168.0" fill="#2a8a35"/><polygon points="314.0,158.0 338.0,164.0 322.0,168.0" fill="#1f7a2c"/><polygon points="322.0,172.0 340.0,167.0 346.0,178.0 330.0,183.0" fill="#2a8a35"/><polygon points="322.0,172.0 346.0,178.0 330.0,183.0" fill="#1f7a2c"/><polygon points="330.0,186.0 346.0,181.0 350.0,192.0 336.0,196.0" fill="#2a8a35"/><polygon points="330.0,186.0 350.0,192.0 336.0,196.0" fill="#1f7a2c"/><polygon points="327.0,119.0 340.0,117.0 348.0,135.0 335.0,138.0" fill="none" stroke="#1f6f22" stroke-width="0.8" stroke-linejoin="round"/><polyline points="340.0,117.0 348.0,135.0" fill="none" stroke="#08260a" stroke-width="1.0"/><polyline points="328.3,120.0 335.3,136.7" fill="none" stroke="#08260a" stroke-width="0.7200000000000001" opacity="0.85"/><polygon points="334.2,138.2 348.8,134.8 349.1,136.4 334.5,139.8" fill="#2b8a2a"/><polygon points="358.0,110.0 366.0,109.0 372.0,127.0 364.0,129.0" fill="none" stroke="#1f6f22" stroke-width="0.8" stroke-linejoin="round"/><polyline points="366.0,109.0 372.0,127.0" fill="none" stroke="#08260a" stroke-width="1.0"/><polyline points="358.8,111.0 364.1,127.8" fill="none" stroke="#08260a" stroke-width="0.7200000000000001" opacity="0.85"/><polygon points="363.5,129.1 372.5,126.9 372.8,128.5 363.8,130.7" fill="#2b8a2a"/><polygon points="371.0,106.0 379.0,104.4 385.0,122.4 377.0,125.0" fill="none" stroke="#1f6f22" stroke-width="0.8" stroke-linejoin="round"/><polyline points="379.0,104.4 385.0,122.4" fill="none" stroke="#08260a" stroke-width="1.0"/><polyline points="371.8,107.0 377.1,123.7" fill="none" stroke="#08260a" stroke-width="0.7200000000000001" opacity="0.85"/><polygon points="376.5,125.2 385.5,122.2 385.8,123.8 376.8,126.8" fill="#2b8a2a"/><polygon points="397.0,99.0 407.0,97.0 413.0,115.0 403.0,118.0" fill="none" stroke="#1f6f22" stroke-width="0.8" stroke-linejoin="round"/><polyline points="407.0,97.0 413.0,115.0" fill="none" stroke="#08260a" stroke-width="1.0"/><polyline points="398.0,100.0 403.2,116.7" fill="none" stroke="#08260a" stroke-width="0.7200000000000001" opacity="0.85"/><polygon points="402.4,118.2 413.6,114.8 413.9,116.4 402.7,119.8" fill="#2b8a2a"/><polygon points="418.0,94.0 425.0,92.6 429.0,110.0 422.4,112.0" fill="none" stroke="#1f6f22" stroke-width="0.8" stroke-linejoin="round"/><polyline points="425.0,92.6 429.0,110.0" fill="none" stroke="#08260a" stroke-width="1.0"/><polyline points="418.7,95.0 422.5,110.8" fill="none" stroke="#08260a" stroke-width="0.7200000000000001" opacity="0.85"/><polygon points="422.0,112.1 429.4,109.9 429.7,111.5 422.3,113.7" fill="#2b8a2a"/><polygon points="340.0,144.0 352.0,141.6 360.0,159.0 348.0,163.0" fill="none" stroke="#1f6f22" stroke-width="0.8" stroke-linejoin="round"/><polyline points="352.0,141.6 360.0,159.0" fill="none" stroke="#08260a" stroke-width="1.0"/><polyline points="341.2,144.9 348.2,161.7" fill="none" stroke="#08260a" stroke-width="0.7200000000000001" opacity="0.85"/><polygon points="347.3,163.2 360.7,158.8 361.0,160.4 347.6,164.8" fill="#2b8a2a"/><polygon points="368.0,135.0 376.0,133.0 382.0,150.0 374.0,153.0" fill="none" stroke="#1f6f22" stroke-width="0.8" stroke-linejoin="round"/><polyline points="376.0,133.0 382.0,150.0" fill="none" stroke="#08260a" stroke-width="1.0"/><polyline points="368.8,135.9 374.1,151.8" fill="none" stroke="#08260a" stroke-width="0.7200000000000001" opacity="0.85"/><polygon points="373.5,153.2 382.5,149.8 382.8,151.4 373.8,154.8" fill="#2b8a2a"/><polygon points="381.0,131.0 389.0,129.0 395.0,146.0 387.0,149.0" fill="none" stroke="#1f6f22" stroke-width="0.8" stroke-linejoin="round"/><polyline points="389.0,129.0 395.0,146.0" fill="none" stroke="#08260a" stroke-width="1.0"/><polyline points="381.8,131.9 387.1,147.8" fill="none" stroke="#08260a" stroke-width="0.7200000000000001" opacity="0.85"/><polygon points="386.5,149.2 395.5,145.8 395.8,147.4 386.8,150.8" fill="#2b8a2a"/><polygon points="405.0,123.0 415.0,120.0 420.0,137.0 410.0,140.0" fill="none" stroke="#1f6f22" stroke-width="0.8" stroke-linejoin="round"/><polyline points="415.0,120.0 420.0,137.0" fill="none" stroke="#08260a" stroke-width="1.0"/><polyline points="405.9,123.8 410.3,138.8" fill="none" stroke="#08260a" stroke-width="0.7200000000000001" opacity="0.85"/><polygon points="409.4,140.2 420.6,136.8 420.9,138.4 409.7,141.8" fill="#2b8a2a"/><polygon points="426.0,116.0 432.0,114.4 436.0,131.0 430.0,133.0" fill="none" stroke="#1f6f22" stroke-width="0.8" stroke-linejoin="round"/><polyline points="432.0,114.4 436.0,131.0" fill="none" stroke="#08260a" stroke-width="1.0"/><polyline points="426.6,116.9 430.1,131.9" fill="none" stroke="#08260a" stroke-width="0.7200000000000001" opacity="0.85"/><polygon points="429.6,133.1 436.4,130.9 436.7,132.5 429.9,134.7" fill="#2b8a2a"/><polygon points="351.0,168.0 363.0,165.0 370.0,181.0 358.0,185.0" fill="none" stroke="#1f6f22" stroke-width="0.8" stroke-linejoin="round"/><polyline points="363.0,165.0 370.0,181.0" fill="none" stroke="#08260a" stroke-width="1.0"/><polyline points="352.1,168.8 358.3,183.8" fill="none" stroke="#08260a" stroke-width="0.7200000000000001" opacity="0.85"/><polygon points="357.3,185.2 370.7,180.8 371.0,182.4 357.6,186.8" fill="#2b8a2a"/><polygon points="378.0,158.0 386.0,156.0 391.0,172.0 383.0,175.0" fill="none" stroke="#1f6f22" stroke-width="0.8" stroke-linejoin="round"/><polyline points="386.0,156.0 391.0,172.0" fill="none" stroke="#08260a" stroke-width="1.0"/><polyline points="378.8,158.9 383.2,173.8" fill="none" stroke="#08260a" stroke-width="0.7200000000000001" opacity="0.85"/><polygon points="382.5,175.2 391.5,171.8 391.8,173.4 382.8,176.8" fill="#2b8a2a"/><polygon points="391.0,154.0 398.0,152.0 403.0,168.0 396.0,170.0" fill="none" stroke="#1f6f22" stroke-width="0.8" stroke-linejoin="round"/><polyline points="398.0,152.0 403.0,168.0" fill="none" stroke="#08260a" stroke-width="1.0"/><polyline points="391.7,154.8 396.1,168.9" fill="none" stroke="#08260a" stroke-width="0.7200000000000001" opacity="0.85"/><polygon points="395.6,170.1 403.4,167.9 403.7,169.5 395.9,171.7" fill="#2b8a2a"/><polygon points="412.0,144.0 422.0,141.0 427.0,157.0 417.0,160.0" fill="none" stroke="#1f6f22" stroke-width="0.8" stroke-linejoin="round"/><polyline points="422.0,141.0 427.0,157.0" fill="none" stroke="#08260a" stroke-width="1.0"/><polyline points="412.9,144.8 417.3,158.9" fill="none" stroke="#08260a" stroke-width="0.7200000000000001" opacity="0.85"/><polygon points="416.4,160.2 427.6,156.8 427.9,158.4 416.7,161.8" fill="#2b8a2a"/><polygon points="433.0,137.0 439.0,135.4 442.4,150.0 436.4,152.0" fill="none" stroke="#1f6f22" stroke-width="0.8" stroke-linejoin="round"/><polyline points="439.0,135.4 442.4,150.0" fill="none" stroke="#08260a" stroke-width="1.0"/><polyline points="433.6,137.8 436.6,151.0" fill="none" stroke="#08260a" stroke-width="0.7200000000000001" opacity="0.85"/><polygon points="436.0,152.1 442.8,149.9 443.1,151.5 436.3,153.7" fill="#2b8a2a"/><polygon points="362.0,190.0 374.0,187.0 379.0,199.0 367.0,202.0" fill="none" stroke="#1f6f22" stroke-width="0.8" stroke-linejoin="round"/><polyline points="374.0,187.0 379.0,199.0" fill="none" stroke="#08260a" stroke-width="1.0"/><polyline points="363.0,190.5 367.4,201.1" fill="none" stroke="#08260a" stroke-width="0.7200000000000001" opacity="0.85"/><polygon points="366.3,202.2 379.7,198.8 380.0,200.4 366.6,203.8" fill="#2b8a2a"/><polygon points="387.0,179.0 395.0,177.0 400.0,191.0 392.0,194.0" fill="none" stroke="#1f6f22" stroke-width="0.8" stroke-linejoin="round"/><polyline points="395.0,177.0 400.0,191.0" fill="none" stroke="#08260a" stroke-width="1.0"/><polyline points="387.8,179.8 392.2,192.9" fill="none" stroke="#08260a" stroke-width="0.7200000000000001" opacity="0.85"/><polygon points="391.5,194.2 400.5,190.8 400.8,192.4 391.8,195.8" fill="#2b8a2a"/><polygon points="399.0,174.0 406.0,172.0 411.0,186.0 404.0,189.0" fill="none" stroke="#1f6f22" stroke-width="0.8" stroke-linejoin="round"/><polyline points="406.0,172.0 411.0,186.0" fill="none" stroke="#08260a" stroke-width="1.0"/><polyline points="399.7,174.8 404.1,187.9" fill="none" stroke="#08260a" stroke-width="0.7200000000000001" opacity="0.85"/><polygon points="403.6,189.2 411.4,185.8 411.7,187.4 403.9,190.8" fill="#2b8a2a"/><polygon points="420.0,164.0 429.0,161.0 433.0,175.0 424.0,178.0" fill="none" stroke="#1f6f22" stroke-width="0.8" stroke-linejoin="round"/><polyline points="429.0,161.0 433.0,175.0" fill="none" stroke="#08260a" stroke-width="1.0"/><polyline points="420.8,164.7 424.3,177.0" fill="none" stroke="#08260a" stroke-width="0.7200000000000001" opacity="0.85"/><polygon points="423.5,178.2 433.5,174.8 433.8,176.4 423.8,179.8" fill="#2b8a2a"/><polygon points="438.0,155.0 444.0,153.4 447.0,167.0 441.0,169.0" fill="none" stroke="#1f6f22" stroke-width="0.8" stroke-linejoin="round"/><polyline points="444.0,153.4 447.0,167.0" fill="none" stroke="#08260a" stroke-width="1.0"/><polyline points="438.5,155.7 441.2,168.1" fill="none" stroke="#08260a" stroke-width="0.7200000000000001" opacity="0.85"/><polygon points="440.6,169.1 447.4,166.9 447.7,168.5 440.9,170.7" fill="#2b8a2a"/><polyline points="330.0,141.0 447.0,103.0" fill="none" stroke="#2f932c" stroke-width="1.6" opacity="0.9"/><polyline points="330.0,141.0 447.0,103.0" fill="none" stroke="#1d6b1f" stroke-width="0.4" opacity="0.8"/><polyline points="338.0,166.0 450.0,124.0" fill="none" stroke="#2f932c" stroke-width="1.6" opacity="0.9"/><polyline points="338.0,166.0 450.0,124.0" fill="none" stroke="#1d6b1f" stroke-width="0.4" opacity="0.8"/><polyline points="348.0,190.0 452.0,145.0" fill="none" stroke="#2f932c" stroke-width="1.6" opacity="0.9"/><polyline points="348.0,190.0 452.0,145.0" fill="none" stroke="#1d6b1f" stroke-width="0.4" opacity="0.8"/><polyline points="360.0,214.0 454.0,166.0" fill="none" stroke="#2f932c" stroke-width="1.6" opacity="0.9"/><polyline points="360.0,214.0 454.0,166.0" fill="none" stroke="#1d6b1f" stroke-width="0.4" opacity="0.8"/><polyline points="352.0,108.0 392.0,204.0" fill="none" stroke="#1d6b1f" stroke-width="0.45" opacity="0.7"/><polyline points="390.0,98.0 424.0,188.0" fill="none" stroke="#1d6b1f" stroke-width="0.45" opacity="0.7"/><polyline points="414.0,92.0 440.0,176.0" fill="none" stroke="#1d6b1f" stroke-width="0.45" opacity="0.7"/><polyline points="436.0,86.0 452.0,168.0" fill="none" stroke="#1d6b1f" stroke-width="0.45" opacity="0.7"/><polygon points="433.0,86.5 440.0,84.5 453.0,150.0 447.0,153.0" fill="#3f9f30"/><polygon points="434.5,92.0 440.5,90.4 441.3,94.4 435.3,96.0" fill="#2a8a35"/><polyline points="435.5,93.6 440.5,92.2" fill="none" stroke="#0e3a12" stroke-width="0.6"/><polygon points="436.4,101.0 442.4,99.4 443.2,103.4 437.2,105.0" fill="#2a8a35"/><polyline points="437.4,102.6 442.4,101.2" fill="none" stroke="#0e3a12" stroke-width="0.6"/><polygon points="438.3,110.0 444.3,108.4 445.1,112.4 439.1,114.0" fill="#2a8a35"/><polyline points="439.3,111.6 444.3,110.2" fill="none" stroke="#0e3a12" stroke-width="0.6"/><polygon points="440.2,119.0 446.2,117.4 447.0,121.4 441.0,123.0" fill="#2a8a35"/><polyline points="441.2,120.6 446.2,119.2" fill="none" stroke="#0e3a12" stroke-width="0.6"/><polygon points="442.1,128.0 448.1,126.4 448.9,130.4 442.9,132.0" fill="#2a8a35"/><polyline points="443.1,129.6 448.1,128.2" fill="none" stroke="#0e3a12" stroke-width="0.6"/><polygon points="444.0,137.0 450.0,135.4 450.8,139.4 444.8,141.0" fill="#2a8a35"/><polyline points="445.0,138.6 450.0,137.2" fill="none" stroke="#0e3a12" stroke-width="0.6"/><polygon points="445.9,146.0 451.9,144.4 452.7,148.4 446.7,150.0" fill="#2a8a35"/><polyline points="446.9,147.6 451.9,146.2" fill="none" stroke="#0e3a12" stroke-width="0.6"/><polygon points="370.0,73.0 400.0,65.0 450.0,61.0 457.0,76.0 457.0,81.0 432.0,86.0 380.0,101.0 374.0,100.0" fill="#485eb0"/><polygon points="384.0,73.0 399.0,71.0 400.0,86.0 386.0,89.0" fill="#52b031" stroke="#1f6b24" stroke-width="0.6" stroke-linejoin="round"/><polygon points="408.5,69.0 417.0,68.0 419.0,82.0 411.0,84.0" fill="#52b031" stroke="#1f6b24" stroke-width="0.6" stroke-linejoin="round"/><polygon points="434.0,63.0 450.0,61.0 456.0,80.0 440.0,84.5" fill="#4458a8"/><polygon points="455.0,76.0 600.0,90.0 711.0,100.0 695.0,160.0 600.0,146.0 467.0,124.0 465.0,116.0 457.0,81.0" fill="#485eb0"/><polyline points="460.0,100.0 704.0,128.0" fill="none" stroke="#1c2554" stroke-width="0.5" opacity="0.7"/><polygon points="464.0,81.0 472.0,81.8 472.8,100.8 464.8,100.0" fill="none" stroke="#10163a" stroke-width="1.2" stroke-linejoin="round"/><polygon points="464.9,83.0 471.3,83.7 471.9,98.9 465.5,98.2" fill="none" stroke="#10163a" stroke-width="0.66" stroke-linejoin="round" opacity="0.8"/><polyline points="472.0,81.8 472.8,100.8" fill="none" stroke="#0a0f2a" stroke-width="1.5"/><polyline points="464.5,82.2 465.2,98.9" fill="none" stroke="#0a0f2a" stroke-width="1.08" opacity="0.85"/><polygon points="464.3,99.9 473.3,100.9 473.6,102.3 464.6,101.3" fill="#33439a"/><polygon points="495.0,84.0 507.0,85.3 507.8,105.3 495.8,104.0" fill="none" stroke="#10163a" stroke-width="1.2" stroke-linejoin="round"/><polygon points="496.3,86.1 505.9,87.1 506.5,103.1 496.9,102.1" fill="none" stroke="#10163a" stroke-width="0.66" stroke-linejoin="round" opacity="0.8"/><polyline points="507.0,85.3 507.8,105.3" fill="none" stroke="#0a0f2a" stroke-width="1.5"/><polyline points="495.8,85.3 496.5,102.9" fill="none" stroke="#0a0f2a" stroke-width="1.08" opacity="0.85"/><polygon points="495.1,103.9 508.5,105.3 508.8,106.7 495.4,105.3" fill="#33439a"/><polygon points="520.0,86.0 525.0,86.5 525.8,107.5 520.8,107.0" fill="none" stroke="#10163a" stroke-width="1.2" stroke-linejoin="round"/><polygon points="520.6,88.2 524.6,88.6 525.2,105.4 521.2,105.0" fill="none" stroke="#10163a" stroke-width="0.66" stroke-linejoin="round" opacity="0.8"/><polyline points="525.0,86.5 525.8,107.5" fill="none" stroke="#0a0f2a" stroke-width="1.5"/><polyline points="520.3,87.3 521.1,105.8" fill="none" stroke="#0a0f2a" stroke-width="1.08" opacity="0.85"/><polygon points="520.5,107.0 526.1,107.6 526.4,109.0 520.8,108.4" fill="#33439a"/><polygon points="536.0,87.0 549.0,88.4 549.8,111.4 536.8,110.0" fill="none" stroke="#10163a" stroke-width="1.2" stroke-linejoin="round"/><polygon points="537.4,89.4 547.8,90.5 548.4,108.9 538.0,107.8" fill="none" stroke="#10163a" stroke-width="0.66" stroke-linejoin="round" opacity="0.8"/><polyline points="549.0,88.4 549.8,111.4" fill="none" stroke="#0a0f2a" stroke-width="1.5"/><polyline points="536.8,88.5 537.5,108.7" fill="none" stroke="#0a0f2a" stroke-width="1.08" opacity="0.85"/><polygon points="536.0,109.9 550.6,111.5 550.9,112.9 536.3,111.3" fill="#33439a"/><polygon points="563.0,90.0 572.0,91.0 572.8,113.0 563.8,112.0" fill="none" stroke="#10163a" stroke-width="1.2" stroke-linejoin="round"/><polygon points="564.0,92.3 571.2,93.1 571.8,110.7 564.6,109.9" fill="none" stroke="#10163a" stroke-width="0.66" stroke-linejoin="round" opacity="0.8"/><polyline points="572.0,91.0 572.8,113.0" fill="none" stroke="#0a0f2a" stroke-width="1.5"/><polyline points="563.6,91.4 564.3,110.7" fill="none" stroke="#0a0f2a" stroke-width="1.08" opacity="0.85"/><polygon points="563.3,111.9 573.3,113.0 573.6,114.4 563.6,113.3" fill="#33439a"/><polygon points="583.0,91.0 597.0,92.5 597.8,117.5 583.8,116.0" fill="none" stroke="#10163a" stroke-width="1.2" stroke-linejoin="round"/><polygon points="584.5,93.6 595.7,94.8 596.3,114.8 585.1,113.6" fill="none" stroke="#10163a" stroke-width="0.66" stroke-linejoin="round" opacity="0.8"/><polyline points="597.0,92.5 597.8,117.5" fill="none" stroke="#0a0f2a" stroke-width="1.5"/><polyline points="583.9,92.6 584.6,114.6" fill="none" stroke="#0a0f2a" stroke-width="1.08" opacity="0.85"/><polygon points="583.0,115.9 598.6,117.6 598.9,119.0 583.3,117.3" fill="#33439a"/><polygon points="616.0,97.0 632.0,98.7 632.8,121.7 616.8,120.0" fill="none" stroke="#10163a" stroke-width="1.2" stroke-linejoin="round"/><polygon points="617.7,99.5 630.5,100.8 631.1,119.2 618.3,117.9" fill="none" stroke="#10163a" stroke-width="0.66" stroke-linejoin="round" opacity="0.8"/><polyline points="632.0,98.7 632.8,121.7" fill="none" stroke="#0a0f2a" stroke-width="1.5"/><polyline points="617.0,98.5 617.7,118.7" fill="none" stroke="#0a0f2a" stroke-width="1.08" opacity="0.85"/><polygon points="615.8,119.9 633.8,121.8 634.1,123.2 616.1,121.3" fill="#33439a"/><polygon points="638.0,99.0 646.0,99.8 646.8,122.8 638.8,122.0" fill="none" stroke="#10163a" stroke-width="1.2" stroke-linejoin="round"/><polygon points="638.9,101.4 645.3,102.1 645.9,120.5 639.5,119.8" fill="none" stroke="#10163a" stroke-width="0.66" stroke-linejoin="round" opacity="0.8"/><polyline points="646.0,99.8 646.8,122.8" fill="none" stroke="#0a0f2a" stroke-width="1.5"/><polyline points="638.5,100.4 639.2,120.7" fill="none" stroke="#0a0f2a" stroke-width="1.08" opacity="0.85"/><polygon points="638.3,121.9 647.3,122.9 647.6,124.3 638.6,123.3" fill="#33439a"/><polygon points="468.0,104.0 476.0,104.8 476.8,117.8 468.8,117.0" fill="none" stroke="#10163a" stroke-width="1.2" stroke-linejoin="round"/><polygon points="468.9,105.4 475.3,106.1 475.9,116.5 469.5,115.8" fill="none" stroke="#10163a" stroke-width="0.66" stroke-linejoin="round" opacity="0.8"/><polyline points="476.0,104.8 476.8,117.8" fill="none" stroke="#0a0f2a" stroke-width="1.5"/><polyline points="468.5,104.8 469.2,116.3" fill="none" stroke="#0a0f2a" stroke-width="1.08" opacity="0.85"/><polygon points="468.3,116.9 477.3,117.9 477.6,119.3 468.6,118.3" fill="#33439a"/><polygon points="498.0,108.0 511.0,109.4 511.8,123.4 498.8,122.0" fill="none" stroke="#10163a" stroke-width="1.2" stroke-linejoin="round"/><polygon points="499.4,109.5 509.8,110.6 510.4,121.8 500.0,120.7" fill="none" stroke="#10163a" stroke-width="0.66" stroke-linejoin="round" opacity="0.8"/><polyline points="511.0,109.4 511.8,123.4" fill="none" stroke="#0a0f2a" stroke-width="1.5"/><polyline points="498.8,108.9 499.5,121.2" fill="none" stroke="#0a0f2a" stroke-width="1.08" opacity="0.85"/><polygon points="498.0,121.9 512.6,123.5 512.9,124.9 498.3,123.3" fill="#33439a"/><polygon points="523.0,110.0 528.0,110.5 528.8,125.5 523.8,125.0" fill="none" stroke="#10163a" stroke-width="1.2" stroke-linejoin="round"/><polygon points="523.6,111.6 527.6,112.0 528.2,124.0 524.2,123.6" fill="none" stroke="#10163a" stroke-width="0.66" stroke-linejoin="round" opacity="0.8"/><polyline points="528.0,110.5 528.8,125.5" fill="none" stroke="#0a0f2a" stroke-width="1.5"/><polyline points="523.3,110.9 524.1,124.1" fill="none" stroke="#0a0f2a" stroke-width="1.08" opacity="0.85"/><polygon points="523.5,125.0 529.1,125.6 529.4,127.0 523.8,126.4" fill="#33439a"/><polygon points="537.0,114.0 550.0,115.4 550.8,129.4 537.8,128.0" fill="none" stroke="#10163a" stroke-width="1.2" stroke-linejoin="round"/><polygon points="538.4,115.5 548.8,116.6 549.4,127.8 539.0,126.7" fill="none" stroke="#10163a" stroke-width="0.66" stroke-linejoin="round" opacity="0.8"/><polyline points="550.0,115.4 550.8,129.4" fill="none" stroke="#0a0f2a" stroke-width="1.5"/><polyline points="537.8,114.9 538.5,127.2" fill="none" stroke="#0a0f2a" stroke-width="1.08" opacity="0.85"/><polygon points="537.0,127.9 551.6,129.5 551.9,130.9 537.3,129.3" fill="#33439a"/><polygon points="564.0,117.0 572.0,117.8 572.8,132.8 564.8,132.0" fill="none" stroke="#10163a" stroke-width="1.2" stroke-linejoin="round"/><polygon points="564.9,118.6 571.3,119.3 571.9,131.3 565.5,130.6" fill="none" stroke="#10163a" stroke-width="0.66" stroke-linejoin="round" opacity="0.8"/><polyline points="572.0,117.8 572.8,132.8" fill="none" stroke="#0a0f2a" stroke-width="1.5"/><polyline points="564.5,118.0 565.2,131.2" fill="none" stroke="#0a0f2a" stroke-width="1.08" opacity="0.85"/><polygon points="564.3,131.9 573.3,132.9 573.6,134.3 564.6,133.3" fill="#33439a"/><polygon points="583.0,120.0 597.0,121.5 597.8,136.5 583.8,135.0" fill="none" stroke="#10163a" stroke-width="1.2" stroke-linejoin="round"/><polygon points="584.5,121.6 595.7,122.8 596.3,134.8 585.1,133.6" fill="none" stroke="#10163a" stroke-width="0.66" stroke-linejoin="round" opacity="0.8"/><polyline points="597.0,121.5 597.8,136.5" fill="none" stroke="#0a0f2a" stroke-width="1.5"/><polyline points="583.9,121.0 584.6,134.2" fill="none" stroke="#0a0f2a" stroke-width="1.08" opacity="0.85"/><polygon points="583.0,134.9 598.6,136.6 598.9,138.0 583.3,136.3" fill="#33439a"/><polygon points="619.0,127.0 635.0,128.7 635.8,142.7 619.8,141.0" fill="none" stroke="#10163a" stroke-width="1.2" stroke-linejoin="round"/><polygon points="620.7,128.6 633.5,129.9 634.1,141.1 621.3,139.8" fill="none" stroke="#10163a" stroke-width="0.66" stroke-linejoin="round" opacity="0.8"/><polyline points="635.0,128.7 635.8,142.7" fill="none" stroke="#0a0f2a" stroke-width="1.5"/><polyline points="620.0,127.9 620.7,140.3" fill="none" stroke="#0a0f2a" stroke-width="1.08" opacity="0.85"/><polygon points="618.8,140.9 636.8,142.8 637.1,144.2 619.1,142.3" fill="#33439a"/><polygon points="647.0,129.0 654.0,129.7 654.8,144.7 647.8,144.0" fill="none" stroke="#10163a" stroke-width="1.2" stroke-linejoin="round"/><polygon points="647.8,130.6 653.4,131.2 654.0,143.2 648.4,142.6" fill="none" stroke="#10163a" stroke-width="0.66" stroke-linejoin="round" opacity="0.8"/><polyline points="654.0,129.7 654.8,144.7" fill="none" stroke="#0a0f2a" stroke-width="1.5"/><polyline points="647.5,129.9 648.2,143.1" fill="none" stroke="#0a0f2a" stroke-width="1.08" opacity="0.85"/><polygon points="647.4,144.0 655.2,144.8 655.5,146.2 647.7,145.4" fill="#33439a"/><polygon points="706.0,123.0 788.0,137.0 808.0,182.0 803.0,193.0 674.0,171.0 452.0,131.0 465.0,117.0 467.0,124.0 600.0,146.0 695.0,160.0 704.0,130.0" fill="#485eb0"/><polygon points="704.0,130.0 786.0,144.0 797.0,178.0 695.0,160.0" fill="#16aec4"/><polygon points="788.0,137.0 808.0,182.0 797.0,178.0 786.0,144.0" fill="#3f52a0"/><polyline points="467.0,124.0 600.0,146.0 695.0,160.0" fill="none" stroke="#1fb4cf" stroke-width="1.3"/><polyline points="452.0,131.5 674.0,171.5 803.0,193.5" fill="none" stroke="#59d0e8" stroke-width="1.1"/><polyline points="695.0,160.0 797.0,178.0" fill="none" stroke="#2b3a80" stroke-width="0.5"/><polyline points="459.0,157.0 674.0,201.0 784.0,227.0" fill="none" stroke="#3a9a2e" stroke-width="2.2" opacity="0.9"/><polyline points="459.0,156.0 674.0,200.0 784.0,226.0" fill="none" stroke="#1d6b1f" stroke-width="0.6" opacity="0.8"/><polyline points="459.0,158.5 674.0,202.5 783.0,228.5" fill="none" stroke="#1d6b1f" stroke-width="0.5" opacity="0.6"/><polygon points="476.0,139.0 500.0,143.0 502.0,163.0 479.0,158.0" fill="none" stroke="#15501a" stroke-width="1.2" stroke-linejoin="round"/><polygon points="478.6,141.3 497.9,144.6 499.4,160.6 481.1,156.6" fill="none" stroke="#15501a" stroke-width="0.66" stroke-linejoin="round" opacity="0.8"/><polyline points="500.0,143.0 502.0,163.0" fill="none" stroke="#0a300d" stroke-width="1.5"/><polyline points="477.6,140.4 480.2,157.1" fill="none" stroke="#0a300d" stroke-width="1.08" opacity="0.85"/><polygon points="477.6,157.7 503.4,163.3 503.7,165.1 477.9,159.5" fill="#2b8a2a"/><polygon points="512.0,146.0 539.0,151.0 539.0,170.0 514.0,165.0" fill="none" stroke="#15501a" stroke-width="1.2" stroke-linejoin="round"/><polygon points="514.8,148.4 536.4,152.4 536.4,167.6 516.4,163.6" fill="none" stroke="#15501a" stroke-width="0.66" stroke-linejoin="round" opacity="0.8"/><polyline points="539.0,151.0 539.0,170.0" fill="none" stroke="#0a300d" stroke-width="1.5"/><polyline points="513.7,147.4 515.4,164.2" fill="none" stroke="#0a300d" stroke-width="1.08" opacity="0.85"/><polygon points="512.5,164.7 540.5,170.3 540.8,172.1 512.8,166.5" fill="#2b8a2a"/><polygon points="549.0,153.0 569.0,157.0 568.0,176.0 550.0,172.0" fill="none" stroke="#15501a" stroke-width="1.2" stroke-linejoin="round"/><polygon points="551.0,155.3 567.0,158.5 566.2,173.7 551.8,170.5" fill="none" stroke="#15501a" stroke-width="0.66" stroke-linejoin="round" opacity="0.8"/><polyline points="569.0,157.0 568.0,176.0" fill="none" stroke="#0a300d" stroke-width="1.5"/><polyline points="550.2,154.4 551.1,171.1" fill="none" stroke="#0a300d" stroke-width="1.08" opacity="0.85"/><polygon points="548.9,171.8 569.1,176.2 569.4,178.0 549.2,173.6" fill="#2b8a2a"/><polygon points="600.0,163.0 633.0,169.0 631.0,190.0 599.0,183.0" fill="none" stroke="#15501a" stroke-width="1.2" stroke-linejoin="round"/><polygon points="603.1,165.7 629.5,170.4 628.0,187.2 602.4,181.7" fill="none" stroke="#15501a" stroke-width="0.66" stroke-linejoin="round" opacity="0.8"/><polyline points="633.0,169.0 631.0,190.0" fill="none" stroke="#0a300d" stroke-width="1.5"/><polyline points="601.9,164.6 601.0,182.2" fill="none" stroke="#0a300d" stroke-width="1.08" opacity="0.85"/><polygon points="597.1,182.6 632.9,190.4 633.2,192.2 597.4,184.4" fill="#2b8a2a"/><polygon points="642.0,176.0 660.0,179.0 658.0,191.0 641.0,188.0" fill="none" stroke="#15501a" stroke-width="1.2" stroke-linejoin="round"/><polygon points="643.6,177.5 658.0,179.9 656.5,189.5 642.9,187.1" fill="none" stroke="#15501a" stroke-width="0.66" stroke-linejoin="round" opacity="0.8"/><polyline points="660.0,179.0 658.0,191.0" fill="none" stroke="#0a300d" stroke-width="1.5"/><polyline points="643.0,176.9 642.1,187.5" fill="none" stroke="#0a300d" stroke-width="1.08" opacity="0.85"/><polygon points="640.0,187.8 659.0,191.2 659.3,193.0 640.3,189.6" fill="#2b8a2a"/><polygon points="677.0,177.0 704.0,182.0 698.0,205.0 673.0,199.0" fill="none" stroke="#15501a" stroke-width="1.2" stroke-linejoin="round"/><polygon points="679.2,179.8 700.8,183.8 696.0,202.2 676.0,197.3" fill="none" stroke="#15501a" stroke-width="0.66" stroke-linejoin="round" opacity="0.8"/><polyline points="704.0,182.0 698.0,205.0" fill="none" stroke="#0a300d" stroke-width="1.5"/><polyline points="678.3,178.7 674.8,198.0" fill="none" stroke="#0a300d" stroke-width="1.08" opacity="0.85"/><polygon points="671.5,198.6 699.5,205.4 699.8,207.2 671.8,200.4" fill="#2b8a2a"/><polygon points="744.0,189.0 790.0,198.0 778.0,222.0 735.0,212.0" fill="none" stroke="#15501a" stroke-width="1.2" stroke-linejoin="round"/><polygon points="747.5,192.2 784.4,199.4 774.8,218.7 740.4,210.7" fill="none" stroke="#15501a" stroke-width="0.66" stroke-linejoin="round" opacity="0.8"/><polyline points="790.0,198.0 778.0,222.0" fill="none" stroke="#0a300d" stroke-width="1.5"/><polyline points="746.1,190.9 738.2,211.2" fill="none" stroke="#0a300d" stroke-width="1.08" opacity="0.85"/><polygon points="732.4,211.4 780.6,222.6 780.9,224.4 732.7,213.2" fill="#2b8a2a"/><polygon points="462.0,159.0 470.0,160.0 473.0,179.0 465.0,177.0" fill="none" stroke="#15501a" stroke-width="1.2" stroke-linejoin="round"/><polygon points="463.1,160.9 469.5,161.8 471.9,176.9 465.5,175.3" fill="none" stroke="#15501a" stroke-width="0.66" stroke-linejoin="round" opacity="0.8"/><polyline points="470.0,160.0 473.0,179.0" fill="none" stroke="#0a300d" stroke-width="1.5"/><polyline points="462.7,160.2 465.3,176.0" fill="none" stroke="#0a300d" stroke-width="1.08" opacity="0.85"/><polygon points="464.5,176.9 473.5,179.1 473.8,180.9 464.8,178.7" fill="#2b8a2a"/><polygon points="480.0,165.0 504.0,170.0 506.0,187.0 483.0,182.0" fill="none" stroke="#15501a" stroke-width="1.2" stroke-linejoin="round"/><polygon points="482.6,167.2 501.9,171.2 503.4,184.8 485.1,180.8" fill="none" stroke="#15501a" stroke-width="0.66" stroke-linejoin="round" opacity="0.8"/><polyline points="504.0,170.0 506.0,187.0" fill="none" stroke="#0a300d" stroke-width="1.5"/><polyline points="481.6,166.3 484.2,181.3" fill="none" stroke="#0a300d" stroke-width="1.08" opacity="0.85"/><polygon points="481.6,181.7 507.4,187.3 507.7,189.1 481.9,183.5" fill="#2b8a2a"/><polygon points="525.0,173.0 541.0,176.0 542.0,196.0 527.0,192.0" fill="none" stroke="#15501a" stroke-width="1.2" stroke-linejoin="round"/><polygon points="526.8,175.2 539.5,177.7 540.4,193.7 528.4,190.4" fill="none" stroke="#15501a" stroke-width="0.66" stroke-linejoin="round" opacity="0.8"/><polyline points="541.0,176.0 542.0,196.0" fill="none" stroke="#0a300d" stroke-width="1.5"/><polyline points="526.0,174.3 527.8,191.1" fill="none" stroke="#0a300d" stroke-width="1.08" opacity="0.85"/><polygon points="526.1,191.8 542.9,196.2 543.2,198.0 526.4,193.6" fill="#2b8a2a"/><polygon points="560.0,180.0 577.0,183.0 577.0,205.0 561.0,201.0" fill="none" stroke="#15501a" stroke-width="1.2" stroke-linejoin="round"/><polygon points="561.8,182.4 575.4,184.8 575.4,202.4 562.5,199.2" fill="none" stroke="#15501a" stroke-width="0.66" stroke-linejoin="round" opacity="0.8"/><polyline points="577.0,183.0 577.0,205.0" fill="none" stroke="#0a300d" stroke-width="1.5"/><polyline points="561.0,181.5 561.9,199.9" fill="none" stroke="#0a300d" stroke-width="1.08" opacity="0.85"/><polygon points="560.0,200.8 578.0,205.2 578.3,207.0 560.3,202.6" fill="#2b8a2a"/><polygon points="599.0,190.0 632.0,197.0 630.0,218.0 598.0,210.0" fill="none" stroke="#15501a" stroke-width="1.2" stroke-linejoin="round"/><polygon points="602.1,192.8 628.5,198.3 627.0,215.2 601.4,208.8" fill="none" stroke="#15501a" stroke-width="0.66" stroke-linejoin="round" opacity="0.8"/><polyline points="632.0,197.0 630.0,218.0" fill="none" stroke="#0a300d" stroke-width="1.5"/><polyline points="600.9,191.7 600.0,209.2" fill="none" stroke="#0a300d" stroke-width="1.08" opacity="0.85"/><polygon points="596.1,209.5 631.9,218.5 632.2,220.3 596.4,211.3" fill="#2b8a2a"/><polygon points="641.0,202.0 658.0,206.0 656.0,220.0 639.0,216.0" fill="none" stroke="#15501a" stroke-width="1.2" stroke-linejoin="round"/><polygon points="642.5,203.8 656.1,207.0 654.5,218.2 640.9,215.0" fill="none" stroke="#15501a" stroke-width="0.66" stroke-linejoin="round" opacity="0.8"/><polyline points="658.0,206.0 656.0,220.0" fill="none" stroke="#0a300d" stroke-width="1.5"/><polyline points="641.9,203.1 640.1,215.4" fill="none" stroke="#0a300d" stroke-width="1.08" opacity="0.85"/><polygon points="638.0,215.8 657.0,220.2 657.3,222.0 638.3,217.6" fill="#2b8a2a"/><polygon points="678.0,208.0 700.0,212.0 695.0,234.0 673.0,228.0" fill="none" stroke="#15501a" stroke-width="1.2" stroke-linejoin="round"/><polygon points="679.7,210.5 697.3,213.7 693.3,231.3 675.7,226.5" fill="none" stroke="#15501a" stroke-width="0.66" stroke-linejoin="round" opacity="0.8"/><polyline points="700.0,212.0 695.0,234.0" fill="none" stroke="#0a300d" stroke-width="1.5"/><polyline points="679.0,209.5 674.6,227.1" fill="none" stroke="#0a300d" stroke-width="1.08" opacity="0.85"/><polygon points="671.7,227.6 696.3,234.4 696.6,236.2 672.0,229.4" fill="#2b8a2a"/><polygon points="729.0,219.0 773.0,228.0 763.0,250.0 722.0,240.0" fill="none" stroke="#15501a" stroke-width="1.2" stroke-linejoin="round"/><polygon points="732.5,222.1 767.8,229.2 759.8,246.8 727.0,238.8" fill="none" stroke="#15501a" stroke-width="0.66" stroke-linejoin="round" opacity="0.8"/><polyline points="773.0,228.0 763.0,250.0" fill="none" stroke="#0a300d" stroke-width="1.5"/><polyline points="731.1,220.8 725.0,239.3" fill="none" stroke="#0a300d" stroke-width="1.08" opacity="0.85"/><polygon points="719.5,239.4 765.5,250.6 765.8,252.4 719.8,241.2" fill="#2b8a2a"/><polyline points="454.0,168.0 466.0,182.0 561.0,208.0 769.0,257.0" fill="none" stroke="#2f8f2d" stroke-width="0.6" opacity="0.8"/><polygon points="360.0,220.0 454.0,168.0 466.0,182.0 561.0,208.0 505.0,273.0" fill="#e20b16"/><polyline points="360.0,220.0 505.0,273.0" fill="none" stroke="#b00812" stroke-width="0.5" opacity="0.8"/><polygon points="360.0,220.0 505.0,273.0 505.0,276.0 360.0,223.0" fill="#bf0e16"/><polygon points="456.0,193.0 473.0,190.0 478.0,207.0 461.0,211.0" fill="#c46a78" stroke="#6b2a33" stroke-width="0.6" stroke-linejoin="round" opacity="0.9"/><polygon points="456.0,193.0 473.0,190.0 475.0,195.0 458.0,198.0" fill="#d98a95" stroke="#6b2a33" stroke-width="0.5" stroke-linejoin="round" opacity="0.9"/><polyline points="466.0,168.0 490.0,164.0 492.0,168.0 468.0,180.0" fill="none" stroke="#d82a2a" stroke-width="0.5" opacity="0.9"/><polygon points="505.0,273.0 620.0,315.4 780.5,368.3 781.4,372.0 779.5,376.5 775.0,378.5 735.0,378.5 716.0,372.0 680.0,364.0 661.0,349.5 620.0,336.7 558.0,314.0 510.0,292.0 456.0,274.0 470.0,268.0" fill="#4aa82f"/><polyline points="505.0,273.0 620.0,315.4 780.5,368.3" fill="none" stroke="#1d6b1f" stroke-width="0.6" opacity="0.9"/><polyline points="470.0,278.0 620.0,331.0 776.0,373.0" fill="none" stroke="#9bd88a" stroke-width="0.4" opacity="0.7"/><polyline points="557.0,292.0 558.0,314.0" fill="none" stroke="#1d6b1f" stroke-width="0.5"/><polygon points="491.0,272.0 505.0,277.0 505.0,282.0 491.0,277.0" fill="#1c3a1c" stroke="#0e220e" stroke-width="0.4" stroke-linejoin="round"/><polygon points="665.0,343.0 693.0,352.0 692.0,358.0 664.0,349.0" fill="#1c3a1c" stroke="#0e220e" stroke-width="0.4" stroke-linejoin="round"/><polyline points="492.4,282.0 487.2,286.4 505.6,294.8 511.2,288.8" fill="none" stroke="#ddd" stroke-width="0.9"/><polyline points="661.0,350.0 660.0,362.0 664.0,363.0" fill="none" stroke="#ddd" stroke-width="0.9"/><polyline points="681.0,370.0 690.0,370.0 691.0,366.0" fill="none" stroke="#ddd" stroke-width="0.8"/><polyline points="400.0,235.0 430.0,262.0 456.0,274.0" fill="none" stroke="#1d6b1f" stroke-width="0.5" opacity="0.8"/><polyline points="360.0,223.0 400.0,240.0 440.0,258.0" fill="none" stroke="#1d6b1f" stroke-width="0.4" opacity="0.7"/><polygon points="614.0,233.0 640.0,238.0 638.0,258.0 613.0,252.0" fill="#6fbf66" stroke="#1f5a22" stroke-width="0.6" stroke-linejoin="round" opacity="0.95"/><polygon points="614.0,233.0 640.0,238.0 639.5,243.0 613.7,238.0" fill="#8fd088" stroke="#1f5a22" stroke-width="0.5" stroke-linejoin="round"/><polyline points="613.4,245.0 638.7,250.5" fill="none" stroke="#1f5a22" stroke-width="0.5"/></svg><div class="b" style="left:45.00px;top:31.30px;width:1080.50px;height:19.10px;background:#262626;border-radius:0.0px;"></div><div class="b" style="left:57.80px;top:38.20px;width:8.90px;height:1.20px;background:#f4f4f4;border-radius:0.3px;"></div><div class="b" style="left:57.80px;top:40.70px;width:8.90px;height:1.20px;background:#f4f4f4;border-radius:0.3px;"></div><div class="b" style="left:57.80px;top:43.20px;width:8.90px;height:1.20px;background:#f4f4f4;border-radius:0.3px;"></div><span class="t" style="left:71.90px;top:37.96px;font-size:6.90px;line-height:6.90px;font-weight:bold;color:#fff;transform:scaleX(0.9270);">Menü</span><div class="b" style="left:107.80px;top:34.20px;width:58.30px;height:14.20px;background:#fff;border-radius:1.6px;"></div><svg class="b" style="left:111.00px;top:36.20px;color:#222" width="10.20" height="10.20" viewBox="0 0 24 24" fill="currentColor" preserveAspectRatio="none"><path d="M2.500 8V2.500H8M16 2.500h5.500V8M21.500 16v5.500H16M8 21.500H2.500V16" fill="none" stroke="currentColor" stroke-width="2.800"/><path d="M12 5.500l5.600 3.200v6.600L12 18.500l-5.600-3.200V8.700z M12 12v6.500 M12 12l5.600-3.300 M12 12L6.400 8.700" fill="none" stroke="currentColor" stroke-width="2.100"/></svg><span class="t" style="left:125.90px;top:37.96px;font-size:6.90px;line-height:6.90px;font-weight:bold;color:#222;transform:scaleX(0.9034);">BIM-Anzeige</span><div class="b" style="left:175.60px;top:34.20px;width:62.00px;height:14.20px;background:#2e2e2e;border-radius:1.6px;"></div><svg class="b" style="left:178.60px;top:36.60px;color:#fff" width="10.00" height="10.00" viewBox="0 0 24 24" fill="currentColor" preserveAspectRatio="none"><path d="M8.500 5.500h13l-1 2.800h-13zM5.500 10.600h14l-1 2.800h-14zM2.500 15.700h13l-1 2.800h-13z"/></svg><span class="t" style="left:193.00px;top:37.96px;font-size:6.90px;line-height:6.90px;font-weight:bold;color:#fff;transform:scaleX(0.9065);">Bauzeitenplan</span><div class="b" style="left:247.40px;top:34.20px;width:56.60px;height:14.20px;background:#2e2e2e;border-radius:1.6px;"></div><svg class="b" style="left:250.40px;top:36.20px;color:#fff" width="10.40" height="10.40" viewBox="0 0 24 24" fill="currentColor" preserveAspectRatio="none"><path d="M3 3h18v18H3z" fill="none" stroke="currentColor" stroke-width="2.200"/><path d="M6.500 7h3v2.400h-3zM6.500 10.800h3v2.400h-3zM6.500 14.600h3V17h-3zM11.500 7h6v2.400h-6zM11.500 10.800h6v2.400h-6zM11.500 14.600h6V17h-6z"/></svg><span class="t" style="left:265.00px;top:37.96px;font-size:6.90px;line-height:6.90px;font-weight:bold;color:#fff;transform:scaleX(0.9048);">Wochenplan</span><div class="b" style="left:314.00px;top:34.20px;width:71.00px;height:14.20px;background:#fff;border-radius:1.6px;"></div><svg class="b" style="left:316.60px;top:36.20px;color:#222" width="10.40" height="10.40" viewBox="0 0 24 24" fill="currentColor" preserveAspectRatio="none"><path d="M3 3v8h8V3H3zm6 6H5V5h4v4zm-6 4v8h8v-8H3zm6 6H5v-4h4v4zm4-16v8h8V3h-8zm6 6h-4V5h4v4zm-6 4v8h8v-8h-8zm6 6h-4v-4h4v4z"/></svg><span class="t" style="left:331.00px;top:37.96px;font-size:6.90px;line-height:6.90px;font-weight:bold;color:#222;transform:scaleX(0.8956);">Wochenvorschau</span><svg class="b" style="left:538.80px;top:35.40px;color:#f2f2f2" width="10.00" height="10.80" viewBox="0 0 24 24" fill="currentColor" preserveAspectRatio="none"><path d="M13 1.500C8.500 1.500 7.800 5 7.500 9c-.3 4-2.500 7-5 9.500-1 1-.5 2.500 1 2.500 1.500 0 2 1.300 3.500 1.300s2-1.300 3.500-1.300 2 1.300 3.500 1.300 2-1 3.500-1.300c1.500-.3 2.500-1.500 2.500-3.500V8c0-4-2.500-6.500-7-6.500z"/><circle cx="12" cy="8" r="1.100" fill="#262626"/><circle cx="16.500" cy="8" r="1.100" fill="#262626"/></svg><span class="t" style="left:551.60px;top:36.62px;font-size:8.60px;line-height:8.60px;font-weight:bold;color:#fff;transform:scaleX(0.9282);">specter</span><span class="t" style="left:582.60px;top:36.62px;font-size:8.60px;line-height:8.60px;color:#b9b9b9;transform:scaleX(1.1045);">automation</span><span class="t" style="left:851.00px;top:37.96px;font-size:6.90px;line-height:6.90px;font-weight:bold;color:#fff;transform:scaleX(0.9444);">Version: efbb15991</span><svg class="b" style="left:928.00px;top:35.60px;color:#fff" width="12.00" height="12.00" viewBox="0 0 24 24" fill="currentColor" preserveAspectRatio="none"><path d="M12 2C6.48 2 2 6.48 2 12s4.48 10 10 10 10-4.48 10-10S17.52 2 12 2zm1 17h-2v-2h2v2zm2.07-7.75l-.9.92C13.45 12.9 13 13.5 13 15h-2v-.5c0-1.1.45-2.1 1.17-2.83l1.24-1.26c.37-.36.59-.86.59-1.41 0-1.1-.9-2-2-2s-2 .9-2 2H8c0-2.21 1.79-4 4-4s4 1.79 4 4c0 .88-.36 1.68-.93 2.25z"/></svg><span class="t" style="left:945.00px;top:37.96px;font-size:6.90px;line-height:6.90px;font-weight:bold;color:#fff;transform:scaleX(0.9206);">Hilfe-Center</span><svg class="b" style="left:996.20px;top:35.60px;color:#fff" width="12.00" height="12.00" viewBox="0 0 24 24" fill="currentColor" preserveAspectRatio="none"><path d="M12 2C6.48 2 2 6.48 2 12s4.48 10 10 10 10-4.48 10-10S17.52 2 12 2zm-1 17.93c-3.95-.49-7-3.85-7-7.93 0-.62.08-1.21.21-1.79L9 15v1c0 1.1.9 2 2 2v1.93zm6.9-2.54c-.26-.81-1-1.39-1.9-1.39h-1v-3c0-.55-.45-1-1-1H8v-2h2c.55 0 1-.45 1-1V7h2c1.1 0 2-.9 2-2v-.41c2.93 1.19 5 4.06 5 7.41 0 2.08-.8 3.97-2.1 5.39z"/></svg><span class="t" style="left:1013.40px;top:37.96px;font-size:6.90px;line-height:6.90px;font-weight:bold;color:#fff;transform:scaleX(0.8889);">Deutsch</span><svg class="b" style="left:1053.00px;top:35.60px;color:#fff" width="12.00" height="12.00" viewBox="0 0 24 24" fill="currentColor" preserveAspectRatio="none"><path d="M19.14 12.94c.04-.3.06-.61.06-.94 0-.32-.02-.64-.07-.94l2.03-1.58c.18-.14.23-.41.12-.61l-1.92-3.32c-.12-.22-.37-.29-.59-.22l-2.39.96c-.5-.38-1.03-.7-1.62-.94l-.36-2.54c-.04-.24-.24-.41-.48-.41h-3.84c-.24 0-.43.17-.47.41l-.36 2.54c-.59.24-1.13.57-1.62.94l-2.39-.96c-.22-.08-.47 0-.59.22L2.74 8.87c-.12.21-.08.47.12.61l2.03 1.58c-.05.3-.09.63-.09.94s.02.64.07.94l-2.03 1.58c-.18.14-.23.41-.12.61l1.92 3.32c.12.22.37.29.59.22l2.39-.96c.5.38 1.03.7 1.62.94l.36 2.54c.05.24.24.41.48.41h3.84c.24 0 .44-.17.47-.41l.36-2.54c.59-.24 1.13-.56 1.62-.94l2.39.96c.22.08.47 0 .59-.22l1.92-3.32c.12-.22.07-.47-.12-.61l-2.01-1.58zM12 15.6c-1.98 0-3.600-1.62-3.600-3.600s1.62-3.600 3.600-3.600 3.600 1.62 3.600 3.600-1.62 3.600-3.600 3.600z"/></svg><span class="t" style="left:1069.60px;top:37.96px;font-size:6.90px;line-height:6.90px;font-weight:bold;color:#fff;transform:scaleX(0.8930);">Einstellungen</span><div class="b" style="left:50.00px;top:56.10px;width:76.70px;height:13.20px;background:#2d2d2d;border-radius:2.0px;"></div><svg class="b" style="left:53.60px;top:57.80px;color:#fff" width="9.60" height="10.20" viewBox="0 0 24 24" fill="currentColor" preserveAspectRatio="none"><path d="M7.500 1h9v8.500h-9z M1 14.500h10V23.500H1z M13 14.500h10v9H13z M10.800 9h2.400v3.500h-2.400z M4.800 11h14.400v2.600H4.800z M4.800 11h2.600v4.500H4.800z M16.600 11h2.600v4.500h-2.600z"/></svg><span class="t" style="left:65.00px;top:58.99px;font-size:8.40px;line-height:8.40px;color:#fff;transform:scaleX(0.9662);">Objekthierarchie</span><div class="b" style="left:495.60px;top:56.00px;width:208.00px;height:13.40px;background:#2d2d2d;border-radius:2.0px;"></div><div class="b" style="left:499.50px;top:59.60px;width:6.2px;height:6.2px;border-radius:50%;background:#4a60b8"></div><div class="b" style="left:540.50px;top:59.60px;width:6.2px;height:6.2px;border-radius:50%;background:#3fb9d9"></div><div class="b" style="left:587.30px;top:59.60px;width:6.2px;height:6.2px;border-radius:50%;background:#3fb23a"></div><div class="b" style="left:655.90px;top:59.60px;width:6.2px;height:6.2px;border-radius:50%;background:#f07030"></div><span class="t" style="left:509.00px;top:59.06px;font-size:8.20px;line-height:8.20px;color:#fff;transform:scaleX(0.9401);">Geplant</span><span class="t" style="left:550.00px;top:59.06px;font-size:8.20px;line-height:8.20px;color:#fff;transform:scaleX(0.9785);">Gestartet</span><span class="t" style="left:597.00px;top:59.06px;font-size:8.20px;line-height:8.20px;color:#fff;transform:scaleX(0.9889);">Abgeschlossen</span><span class="t" style="left:665.40px;top:59.06px;font-size:8.20px;line-height:8.20px;color:#fff;transform:scaleX(0.9858);">Verzögert</span><div class="b" style="left:1073.00px;top:56.00px;width:47.60px;height:13.40px;background:#2d2d2d;border-radius:2.0px;"></div><svg class="b" style="left:1075.20px;top:56.90px;color:#fff" width="11.60" height="11.60" viewBox="0 0 24 24" fill="currentColor" preserveAspectRatio="none"><path d="M12 2C6.48 2 2 6.48 2 12s4.48 10 10 10 10-4.48 10-10S17.52 2 12 2zm1 15h-2v-6h2v6zm0-8h-2V7h2v2z"/></svg><span class="t" style="left:1088.00px;top:59.06px;font-size:8.20px;line-height:8.20px;color:#fff;transform:scaleX(0.9838);">Info Box</span><div class="b" style="left:321.00px;top:350.20px;width:46.00px;height:14.10px;background:#2d2d2d;border-radius:2.0px;"></div><svg class="b" style="left:326.00px;top:353.10px;color:#fff" width="8.00" height="8.00" viewBox="0 0 24 24" fill="currentColor" preserveAspectRatio="none"><path d="M2 8h20v9H2z" fill="none" stroke="currentColor" stroke-width="2.200"/><path d="M6 8v4M10 8v4M14 8v4M18 8v4" stroke="currentColor" stroke-width="1.800"/></svg><span class="t" style="left:335.60px;top:353.33px;font-size:8.00px;line-height:8.00px;color:#fff;transform:scaleX(0.9996);">Messen</span><div class="b" style="left:371.60px;top:350.20px;width:41.80px;height:14.10px;background:#2d2d2d;border-radius:2.0px;"></div><svg class="b" style="left:376.40px;top:353.50px;color:#fff" width="7.20" height="7.20" viewBox="0 0 24 24" fill="currentColor" preserveAspectRatio="none"><path d="M4.500 2.500h15v8h-15zM4.500 13.500h15v8h-15z" fill="none" stroke="currentColor" stroke-width="2.600"/></svg><span class="t" style="left:386.00px;top:353.33px;font-size:8.00px;line-height:8.00px;color:#fff;transform:scaleX(0.9976);">Schnitt</span><div class="b" style="left:418.40px;top:350.20px;width:85.60px;height:14.10px;background:#2d2d2d;border-radius:2.0px;"></div><svg class="b" style="left:422.40px;top:353.20px;color:#fff" width="7.80" height="7.80" viewBox="0 0 24 24" fill="currentColor" preserveAspectRatio="none"><path d="M9.640 7.640c.23-.5.360-1.050.360-1.640 0-2.210-1.790-4-4-4S2 3.790 2 6s1.790 4 4 4c.59 0 1.140-.13 1.640-.36L10 12l-2.360 2.360C7.140 14.130 6.590 14 6 14c-2.210 0-4 1.790-4 4s1.790 4 4 4 4-1.790 4-4c0-.59-.13-1.140-.36-1.640L12 14l7 7h3v-1L9.640 7.640zM6 8c-1.100 0-2-.89-2-2s.9-2 2-2 2 .89 2 2-.9 2-2 2zm0 12c-1.100 0-2-.89-2-2s.9-2 2-2 2 .89 2 2-.9 2-2 2zm6-7.500c-.28 0-.5-.22-.5-.5s.22-.5.500-.5.500.22.500.5-.22.500-.5.500zM19 3l-6 6 2 2 7-7V3z"/></svg><span class="t" style="left:432.40px;top:353.33px;font-size:8.00px;line-height:8.00px;color:#fff;transform:scaleX(1.0068);">Ausschneiden</span><div class="b" style="left:486.35px;top:350.20px;width:0.50px;height:14.10px;background:#393939;border-radius:0.0px;"></div><svg class="b" style="left:491.80px;top:354.40px" width="6.80" height="6.80" viewBox="0 0 24 24"><circle cx="12" cy="12" r="11.400" fill="#fff"/><path d="M7 14.500l5-5 5 5" fill="none" stroke="#2d2d2d" stroke-width="2.600"/></svg><div class="b" style="left:508.00px;top:350.20px;width:58.40px;height:14.10px;background:#fff;border-radius:2.0px;"></div><svg class="b" style="left:513.40px;top:353.40px;color:#1b1b1b" width="7.40" height="7.40" viewBox="0 0 24 24" fill="currentColor" preserveAspectRatio="none"><circle cx="12" cy="12" r="9.500" fill="none" stroke="currentColor" stroke-width="2"/><path d="M6.500 12l4 4 10-11" fill="none" stroke="currentColor" stroke-width="2.200"/></svg><span class="t" style="left:523.00px;top:353.33px;font-size:8.00px;line-height:8.00px;color:#1b1b1b;transform:scaleX(0.9876);">Status</span><div class="b" style="left:548.35px;top:350.20px;width:0.50px;height:14.10px;background:#c8c8c8;border-radius:0.0px;"></div><svg class="b" style="left:553.90px;top:354.30px" width="7.00" height="7.00" viewBox="0 0 24 24"><circle cx="12" cy="12" r="11.400" fill="#111"/><path d="M7 14.500l5-5 5 5" fill="none" stroke="#fff" stroke-width="2.600"/></svg><div class="b" style="left:571.00px;top:350.20px;width:88.40px;height:14.10px;background:#2d2d2d;border-radius:2.0px;"></div><svg class="b" style="left:575.40px;top:353.20px;color:#fff" width="7.80" height="7.80" viewBox="0 0 24 24" fill="currentColor" preserveAspectRatio="none"><path d="M19 8H5c-1.66 0-3 1.34-3 3v6h4v4h12v-4h4v-6c0-1.660-1.340-3-3-3zm-3 11H8v-5h8v5zm3-7c-.55 0-1-.45-1-1s.45-1 1-1 1 .45 1 1-.45 1-1 1zm-1-9H6v4h12V3z"/></svg><span class="t" style="left:585.40px;top:353.33px;font-size:8.00px;line-height:8.00px;color:#fff;transform:scaleX(1.0046);">Druckvorschau</span><div class="b" style="left:642.35px;top:350.20px;width:0.50px;height:14.10px;background:#393939;border-radius:0.0px;"></div><svg class="b" style="left:647.60px;top:354.40px" width="6.80" height="6.80" viewBox="0 0 24 24"><circle cx="12" cy="12" r="11.400" fill="#fff"/><path d="M7 14.500l5-5 5 5" fill="none" stroke="#2d2d2d" stroke-width="2.600"/></svg><div class="b" style="left:664.40px;top:350.20px;width:65.40px;height:14.10px;background:#2d2d2d;border-radius:2.0px;"></div><svg class="b" style="left:668.40px;top:353.10px;color:#fff" width="8.00" height="8.00" viewBox="0 0 24 24" fill="currentColor" preserveAspectRatio="none"><path d="M12 5V2L8 6l4 4V7c3.310 0 6 2.690 6 6 0 2.970-2.170 5.430-5 5.910v2.020c3.950-.49 7-3.850 7-7.930 0-4.420-3.580-8-8-8z"/><path d="M4 13c0-2 .8-3.800 2.100-5.100" fill="none" stroke="currentColor" stroke-width="2"/><rect x="8" y="11" width="6" height="6" fill="none" stroke="currentColor" stroke-width="1.800"/></svg><span class="t" style="left:678.60px;top:353.33px;font-size:8.00px;line-height:8.00px;color:#fff;transform:scaleX(1.0079);">Zurücksetzen</span><div class="b" style="left:735.00px;top:350.20px;width:59.00px;height:14.10px;background:#2d2d2d;border-radius:2.0px;"></div><svg class="b" style="left:739.20px;top:353.40px;color:#fff" width="7.40" height="7.40" viewBox="0 0 24 24" fill="currentColor" preserveAspectRatio="none"><path d="M8 3v18M12.500 3v18M17 3v18M3 8h18M3 12.500h18M3 17h18" stroke="currentColor" stroke-width="2.400" fill="none"/></svg><span class="t" style="left:749.00px;top:353.33px;font-size:8.00px;line-height:8.00px;color:#fff;transform:scaleX(1.0118);">Achsen</span><div class="b" style="left:779.75px;top:350.20px;width:0.50px;height:14.10px;background:#393939;border-radius:0.0px;"></div><svg class="b" style="left:784.00px;top:354.40px" width="6.80" height="6.80" viewBox="0 0 24 24"><circle cx="12" cy="12" r="11.400" fill="#fff"/><path d="M7 14.500l5-5 5 5" fill="none" stroke="#2d2d2d" stroke-width="2.600"/></svg><div class="b" style="left:801.60px;top:350.20px;width:50.40px;height:14.10px;background:#fff;border-radius:2.0px;"></div><svg class="b" style="left:805.40px;top:352.90px;color:#1b1b1b" width="8.40" height="8.40" viewBox="0 0 24 24" fill="currentColor" preserveAspectRatio="none"><path d="M7 4h15v13H7z"/><path d="M3 8v13h14" fill="none" stroke="currentColor" stroke-width="2"/><path d="M10 8h9v2.500h-9z" fill="#fff"/></svg><span class="t" style="left:815.60px;top:353.33px;font-size:8.00px;line-height:8.00px;color:#1b1b1b;transform:scaleX(1.0000);">PDF</span><div class="b" style="left:834.35px;top:350.20px;width:0.50px;height:14.10px;background:#c8c8c8;border-radius:0.0px;"></div><svg class="b" style="left:839.90px;top:354.30px" width="7.00" height="7.00" viewBox="0 0 24 24"><circle cx="12" cy="12" r="11.400" fill="#111"/><path d="M7 14.500l5-5 5 5" fill="none" stroke="#fff" stroke-width="2.600"/></svg><div class="b" style="left:857.00px;top:350.20px;width:35.00px;height:14.10px;background:#2d2d2d;border-radius:2.0px;"></div><svg class="b" style="left:861.60px;top:353.20px;color:#fff" width="7.80" height="7.80" viewBox="0 0 24 24" fill="currentColor" preserveAspectRatio="none"><path d="M9.500 18.300h5v-2.400h-5v2.400zM2.500 5.700v2.400h19V5.700h-19zm3.500 7.500h12v-2.400H6v2.400z"/></svg><span class="t" style="left:871.60px;top:353.33px;font-size:8.00px;line-height:8.00px;color:#fff;transform:scaleX(0.9787);">Filter</span><svg class="b" style="left:40px;top:335px" width="52" height="43" viewBox="40 335 52 43"><path d="M66.500 357.400L66.500 344.400" stroke="#22b585" stroke-width="1.200"/><path d="M66.500 357.400L52 353.800" stroke="#d81e4a" stroke-width="1.200"/><path d="M66.500 357.400L60 365.800" stroke="#f0a82a" stroke-width="1.200"/><circle cx="66.500" cy="344.400" r="3.900" fill="#22b585"/><circle cx="72.900" cy="349" r="3" fill="#d79a2a"/><circle cx="52" cy="353.800" r="3.900" fill="#d81e4a"/><circle cx="80.900" cy="361" r="3" fill="#f0135a"/><circle cx="60" cy="365.800" r="3.900" fill="#f0a82a"/><circle cx="66.500" cy="370.300" r="2.900" fill="#1f9f6f"/><text x="66.500" y="346" font-size="4.500" font-weight="bold" text-anchor="middle" fill="#0b3d2c" font-family="Liberation Sans">Z</text><text x="52" y="355.400" font-size="4.500" font-weight="bold" text-anchor="middle" fill="#6b0f25" font-family="Liberation Sans">X</text><text x="60" y="367.400" font-size="4.500" font-weight="bold" text-anchor="middle" fill="#5c3d00" font-family="Liberation Sans">Y</text></svg><div class="b" style="left:45.00px;top:378.50px;width:1080.50px;height:328.00px;background:#fff;overflow:hidden" id="panel"><div class="b" style="left:-45px;top:-378.5px;width:1171px;height:738px"><div class="b" style="left:45.00px;top:378.50px;width:1080.50px;height:24.50px;background:#fbfbfd;border-radius:0.0px;"></div><div class="b" style="left:49.00px;top:383.00px;width:17.00px;height:17.00px;background:#25a96f;border-radius:2.0px;"></div><svg class="b" style="left:52.20px;top:386.20px;color:#fff" width="10.60" height="10.60" viewBox="0 0 24 24" fill="currentColor" preserveAspectRatio="none"><path d="M15.410 7.410L14 6l-6 6 6 6 1.410-1.410L10.830 12z"/></svg><div class="b" style="left:68.00px;top:383.00px;width:46.00px;height:17.00px;background:#25a96f;border-radius:2.0px;"></div><svg class="b" style="left:75.60px;top:385.60px;color:#fff" width="11.20" height="11.20" viewBox="0 0 24 24" fill="currentColor" preserveAspectRatio="none"><path d="M20 3h-1V1h-2v2H7V1H5v2H4c-1.100 0-2 .9-2 2v16c0 1.100.9 2 2 2h16c1.100 0 2-.9 2-2V5c0-1.100-.9-2-2-2zm0 18H4V8h16v13z"/></svg><span class="t" style="left:89.00px;top:387.83px;font-size:6.70px;line-height:6.70px;font-weight:bold;color:#fff;transform:scaleX(0.9132);">Heute</span><div class="b" style="left:116.00px;top:383.00px;width:17.00px;height:17.00px;background:#25a96f;border-radius:2.0px;"></div><svg class="b" style="left:119.20px;top:386.20px;color:#fff" width="10.60" height="10.60" viewBox="0 0 24 24" fill="currentColor" preserveAspectRatio="none"><path d="M10 6L8.590 7.410 13.170 12l-4.580 4.590L10 18l6-6z"/></svg><div class="b" style="left:140.60px;top:383.00px;width:89.00px;height:16.60px;background:#fff;border-radius:2.0px;box-shadow:inset 0 0 0 0.6px #e9e9ee;"></div><span class="t" style="left:145.00px;top:387.83px;font-size:6.70px;line-height:6.70px;font-weight:bold;color:#333;transform:scaleX(0.9632);">8. Apr. 2024 - 21. Apr. 2024</span><div class="b" style="left:237.60px;top:383.00px;width:50.80px;height:16.60px;background:#fff;border-radius:2.0px;box-shadow:inset 0 0 0 0.6px #e9e9ee;"></div><svg class="b" style="left:242.20px;top:386.40px;color:#222" width="10.40" height="9.60" viewBox="0 0 24 24" fill="currentColor" preserveAspectRatio="none"><path d="M2 4h20v16H2z" fill="none" stroke="currentColor" stroke-width="2"/><path d="M7 4v16M12 4v16M17 4v16" stroke="currentColor" stroke-width="2"/></svg><span class="t" style="left:255.00px;top:387.83px;font-size:6.70px;line-height:6.70px;font-weight:bold;color:#333;transform:scaleX(0.9200);">2 Wochen</span><div class="b" style="left:296.40px;top:383.00px;width:82.00px;height:16.60px;background:#fff;border-radius:2.0px;box-shadow:inset 0 0 0 0.6px #e9e9ee;"></div><svg class="b" style="left:301.00px;top:385.90px;color:#222" width="10.00" height="10.80" viewBox="0 0 24 24" fill="currentColor" preserveAspectRatio="none"><path d="M2 4v16M22 4v16" stroke="currentColor" stroke-width="2.400" fill="none"/><path d="M5 12h14" stroke="currentColor" stroke-width="2" fill="none"/><path d="M9 8l-4.500 4 4.500 4zM15 8l4.500 4-4.500 4z"/></svg><span class="t" style="left:312.40px;top:387.47px;font-size:7.60px;line-height:7.60px;color:#111;transform:scaleX(0.9129);-webkit-text-stroke:0.15px #111;">X-Größe</span><div class="b" style="left:343.00px;top:385.00px;width:15.00px;height:13.00px;background:#f5f5f8;border-radius:1.5px;"></div><div class="b" style="left:347.00px;top:391.10px;width:7.00px;height:1.00px;background:#333;border-radius:0.0px;"></div><div class="b" style="left:359.60px;top:385.00px;width:14.80px;height:13.00px;background:#f7f7fa;border-radius:1.5px;"></div><div class="b" style="left:363.00px;top:391.10px;width:7.00px;height:1.00px;background:#c4c4c8;border-radius:0.0px;"></div><div class="b" style="left:366.00px;top:388.00px;width:1.00px;height:7.20px;background:#c4c4c8;border-radius:0.0px;"></div><div class="b" style="left:386.00px;top:383.00px;width:81.60px;height:16.60px;background:#fff;border-radius:2.0px;box-shadow:inset 0 0 0 0.6px #e9e9ee;"></div><svg class="b" style="left:391.20px;top:386.20px;color:#222" width="8.80" height="10.40" viewBox="0 0 24 24" fill="currentColor" preserveAspectRatio="none"><path d="M4 2h16M4 22h16" stroke="currentColor" stroke-width="2.400" fill="none"/><path d="M12 6v12" stroke="currentColor" stroke-width="2.200" fill="none"/><path d="M8 9.500l4-4.500 4 4.500zM8 14.500l4 4.500 4-4.500z"/></svg><span class="t" style="left:402.00px;top:387.47px;font-size:7.60px;line-height:7.60px;color:#111;transform:scaleX(0.9282);-webkit-text-stroke:0.15px #111;">Y-Größe</span><div class="b" style="left:433.00px;top:385.00px;width:14.60px;height:13.00px;background:#f5f5f8;border-radius:1.5px;"></div><div class="b" style="left:436.60px;top:391.10px;width:7.00px;height:1.00px;background:#333;border-radius:0.0px;"></div><div class="b" style="left:449.40px;top:385.00px;width:14.60px;height:13.00px;background:#f7f7fa;border-radius:1.5px;"></div><div class="b" style="left:453.00px;top:391.10px;width:7.00px;height:1.00px;background:#c4c4c8;border-radius:0.0px;"></div><div class="b" style="left:456.00px;top:388.00px;width:1.00px;height:7.20px;background:#c4c4c8;border-radius:0.0px;"></div><div class="b" style="left:842.00px;top:383.00px;width:51.60px;height:16.60px;background:linear-gradient(90deg,#e8165e 0%,#ea2a58 45%,#f0604a 70%,#f5a32a 100%);border-radius:2.0px;"></div><svg class="b" style="left:846.60px;top:386.20px;color:#fff" width="10.00" height="10.00" viewBox="0 0 24 24" fill="currentColor" preserveAspectRatio="none"><path d="M3 17.250V21h3.750L17.810 9.940l-3.750-3.750L3 17.250zM20.710 7.040c.39-.39.390-1.020 0-1.410l-2.340-2.340c-.39-.39-1.020-.39-1.410 0l-1.830 1.830 3.750 3.750 1.830-1.830z"/></svg><span class="t" style="left:858.00px;top:387.83px;font-size:6.70px;line-height:6.70px;font-weight:bold;color:#fff;transform:scaleX(0.9241);">Bearbeiten</span><div class="b" style="left:901.40px;top:383.00px;width:46.00px;height:16.60px;background:#fff;border-radius:2.0px;box-shadow:inset 0 0 0 0.6px #e9e9ee;"></div><svg class="b" style="left:906.00px;top:386.00px;color:#222" width="10.80" height="10.80" viewBox="0 0 24 24" fill="currentColor" preserveAspectRatio="none"><path d="M19 8H5c-1.66 0-3 1.34-3 3v6h4v4h12v-4h4v-6c0-1.660-1.340-3-3-3zm-3 11H8v-5h8v5zm3-7c-.55 0-1-.45-1-1s.45-1 1-1 1 .45 1 1-.45 1-1 1zm-1-9H6v4h12V3z"/></svg><span class="t" style="left:919.00px;top:387.83px;font-size:6.70px;line-height:6.70px;font-weight:bold;color:#333;transform:scaleX(0.8952);">Drucken</span><div class="b" style="left:955.40px;top:383.00px;width:63.20px;height:16.60px;background:#fff;border-radius:2.0px;box-shadow:inset 0 0 0 0.6px #e9e9ee;"></div><svg class="b" style="left:959.60px;top:385.80px;color:#222" width="10.60" height="10.60" viewBox="0 0 24 24" fill="currentColor" preserveAspectRatio="none"><path d="M17 10H7v2h10v-2zm2-7h-1V1h-2v2H8V1H6v2H5c-1.110 0-1.990.9-1.990 2L3 19c0 1.100.89 2 2 2h14c1.100 0 2-.9 2-2V5c0-1.100-.9-2-2-2zm0 16H5V8h14v11zm-5-5H7v2h7v-2z"/></svg><span class="t" style="left:972.60px;top:387.83px;font-size:6.70px;line-height:6.70px;font-weight:bold;color:#333;transform:scaleX(0.9307);">Notiz Info</span><svg class="b" style="left:1004.40px;top:386.60px" width="9.20" height="9.20" viewBox="0 0 24 24"><circle cx="12" cy="12" r="11.400" fill="#1a1a1a"/><path d="M7 9.500l5 5 5-5" fill="none" stroke="#fff" stroke-width="2.800"/></svg><div class="b" style="left:1026.60px;top:383.00px;width:36.00px;height:16.60px;background:#fff;border-radius:2.0px;box-shadow:inset 0 0 0 0.6px #e9e9ee;"></div><svg class="b" style="left:1031.40px;top:386.00px;color:#222" width="10.60" height="10.60" viewBox="0 0 24 24" fill="currentColor" preserveAspectRatio="none"><path d="M9.500 18.300h5v-2.400h-5v2.400zM2.500 5.700v2.400h19V5.700h-19zm3.500 7.500h12v-2.400H6v2.400z"/></svg><span class="t" style="left:1044.00px;top:387.83px;font-size:6.70px;line-height:6.70px;font-weight:bold;color:#333;transform:scaleX(0.8913);">Filter</span><div class="b" style="left:1070.40px;top:383.00px;width:47.20px;height:16.60px;background:#fff;border-radius:2.0px;box-shadow:inset 0 0 0 0.6px #e9e9ee;"></div><svg class="b" style="left:1075.80px;top:386.00px;color:#222" width="10.00" height="10.00" viewBox="0 0 24 24" fill="currentColor" preserveAspectRatio="none"><path d="M3 11l5.500-5 4.500 3.500 7.500-6" fill="none" stroke="currentColor" stroke-width="2.200"/><path d="M3 14.500h18v2.200H3zM3 19h18v2.200H3z"/></svg><span class="t" style="left:1088.00px;top:387.83px;font-size:6.70px;line-height:6.70px;font-weight:bold;color:#333;transform:scaleX(0.9074);">Legende</span><svg class="b" style="left:46.80px;top:410.20px;color:#222" width="11.80" height="11.80" viewBox="0 0 24 24" fill="currentColor" preserveAspectRatio="none"><circle cx="12" cy="12" r="10" fill="none" stroke="currentColor" stroke-width="1.800"/><path d="M12 6.500v11M6.500 12h11" stroke="currentColor" stroke-width="1.800"/></svg><div class="b" style="left:61.40px;top:403.60px;width:45.20px;height:25.00px;background:#fff;border-radius:1.0px;box-shadow:inset 0 0 0 0.5px #ececf0;"></div><div class="b" style="left:109.40px;top:403.60px;width:45.20px;height:25.00px;background:#fff;border-radius:1.0px;box-shadow:inset 0 0 0 0.5px #ececf0;"></div><span class="t" style="left:69.00px;top:412.00px;font-size:7.80px;line-height:7.80px;color:#333;transform:scaleX(0.9347);">Gebäude</span><span class="t" style="left:122.60px;top:412.00px;font-size:7.80px;line-height:7.80px;color:#333;transform:scaleX(0.9125);">Etage</span><div class="b" style="left:155.60px;top:404.70px;width:533.40px;height:9.60px;background:#22ab76;border-radius:1.6px;"></div><div class="b" style="left:690.40px;top:404.70px;width:435.10px;height:9.90px;background:#f3f4f9;border-radius:0.0px;"></div><span class="t" style="left:413.15px;top:406.04px;font-size:7.40px;line-height:7.40px;font-weight:bold;color:#fff;transform:scaleX(0.9000);">KW15</span><span class="t" style="left:946.08px;top:405.87px;font-size:7.60px;line-height:7.60px;color:#333;transform:scaleX(0.9200);">KW16</span><div class="b" style="left:155.60px;top:417.20px;width:534.00px;height:11.40px;background:#e0e0e4;border-radius:0.0px;"></div><div class="b" style="left:690.40px;top:417.20px;width:435.10px;height:11.40px;background:#f3f4f9;border-radius:0.0px;"></div><div class="b" style="left:384.60px;top:418.60px;width:75.80px;height:8.90px;background:#22ab76;border-radius:1.8px;"></div><span class="t" style="left:189.82px;top:419.27px;font-size:7.60px;line-height:7.60px;font-weight:bold;color:#222;transform:scaleX(0.9300);">08</span><span class="t" style="left:266.12px;top:419.27px;font-size:7.60px;line-height:7.60px;font-weight:bold;color:#222;transform:scaleX(0.9300);">09</span><span class="t" style="left:342.42px;top:419.27px;font-size:7.60px;line-height:7.60px;font-weight:bold;color:#222;transform:scaleX(0.9300);">10</span><span class="t" style="left:418.91px;top:419.27px;font-size:7.60px;line-height:7.60px;font-weight:bold;color:#fff;transform:scaleX(0.9300);">11</span><span class="t" style="left:495.02px;top:419.27px;font-size:7.60px;line-height:7.60px;font-weight:bold;color:#222;transform:scaleX(0.9300);">12</span><span class="t" style="left:571.32px;top:419.27px;font-size:7.60px;line-height:7.60px;font-weight:bold;color:#222;transform:scaleX(0.9300);">13</span><span class="t" style="left:647.62px;top:419.27px;font-size:7.60px;line-height:7.60px;font-weight:bold;color:#222;transform:scaleX(0.9300);">14</span><span class="t" style="left:723.82px;top:419.20px;font-size:7.80px;line-height:7.80px;color:#333;transform:scaleX(0.9300);">15</span><span class="t" style="left:800.12px;top:419.20px;font-size:7.80px;line-height:7.80px;color:#333;transform:scaleX(0.9300);">16</span><span class="t" style="left:876.42px;top:419.20px;font-size:7.80px;line-height:7.80px;color:#333;transform:scaleX(0.9300);">17</span><span class="t" style="left:952.72px;top:419.20px;font-size:7.80px;line-height:7.80px;color:#333;transform:scaleX(0.9300);">18</span><span class="t" style="left:1029.02px;top:419.20px;font-size:7.80px;line-height:7.80px;color:#333;transform:scaleX(0.9300);">19</span><span class="t" style="left:1105.32px;top:419.20px;font-size:7.80px;line-height:7.80px;color:#333;transform:scaleX(0.9300);">20</span><div class="b" style="left:46.60px;top:430.60px;width:12.40px;height:309.40px;background:#c9c9cf;border-radius:2.0px;"></div><div class="b" style="left:60.00px;top:431.00px;width:47.40px;height:75.60px;background:#f3f4f9;border-radius:0.0px;"></div><div class="b" style="left:60.00px;top:508.40px;width:47.40px;height:152.60px;background:#f3f4f9;border-radius:0.0px;"></div><div class="b" style="left:60.00px;top:663.40px;width:47.40px;height:76.60px;background:#f3f4f9;border-radius:0.0px;"></div><div class="b" style="left:108.40px;top:431.00px;width:46.80px;height:75.60px;background:#f3f4f9;border-radius:0.0px;"></div><div class="b" style="left:108.40px;top:508.40px;width:46.80px;height:75.60px;background:#f3f4f9;border-radius:0.0px;"></div><div class="b" style="left:108.40px;top:585.80px;width:46.80px;height:75.20px;background:#f3f4f9;border-radius:0.0px;"></div><div class="b" style="left:108.40px;top:663.40px;width:46.80px;height:76.60px;background:#f3f4f9;border-radius:0.0px;"></div><div class="b" style="left:108.40px;top:584.00px;width:46.80px;height:1.80px;background:#f3f4f9;border-radius:0.0px;"></div><div class="b" style="left:108.4px;top:584.4px;width:46.8px;height:0;border-top:0.6px dotted #e4e4ea"></div><div class="b" style="left:537.90px;top:431.00px;width:74.70px;height:75.60px;background:#f3f4f9;border-radius:1.0px;"></div><div class="b" style="left:537.90px;top:508.40px;width:74.70px;height:75.60px;background:#f3f4f9;border-radius:1.0px;"></div><div class="b" style="left:537.90px;top:585.80px;width:74.70px;height:75.20px;background:#f3f4f9;border-radius:1.0px;"></div><div class="b" style="left:537.90px;top:663.40px;width:74.70px;height:76.60px;background:#f3f4f9;border-radius:1.0px;"></div><div class="b" style="left:614.20px;top:431.00px;width:74.70px;height:75.60px;background:#f3f4f9;border-radius:1.0px;"></div><div class="b" style="left:614.20px;top:508.40px;width:74.70px;height:75.60px;background:#f3f4f9;border-radius:1.0px;"></div><div class="b" style="left:614.20px;top:585.80px;width:74.70px;height:75.20px;background:#f3f4f9;border-radius:1.0px;"></div><div class="b" style="left:614.20px;top:663.40px;width:74.70px;height:76.60px;background:#f3f4f9;border-radius:1.0px;"></div><div class="b" style="left:1072.00px;top:431.00px;width:53.50px;height:75.60px;background:#f3f4f9;border-radius:1.0px;"></div><div class="b" style="left:1072.00px;top:508.40px;width:53.50px;height:75.60px;background:#f3f4f9;border-radius:1.0px;"></div><div class="b" style="left:1072.00px;top:585.80px;width:53.50px;height:75.20px;background:#f3f4f9;border-radius:1.0px;"></div><div class="b" style="left:1072.00px;top:663.40px;width:53.50px;height:76.60px;background:#f3f4f9;border-radius:1.0px;"></div><div class="b" style="left:231.90px;top:431px;width:0;height:300px;border-left:0.5px dotted #f3f3f7"></div><div class="b" style="left:308.20px;top:431px;width:0;height:300px;border-left:0.5px dotted #f3f3f7"></div><div class="b" style="left:384.50px;top:431px;width:0;height:300px;border-left:0.5px dotted #f3f3f7"></div><div class="b" style="left:460.80px;top:431px;width:0;height:300px;border-left:0.5px dotted #f3f3f7"></div><div class="b" style="left:537.10px;top:431px;width:0;height:300px;border-left:0.5px dotted #f3f3f7"></div><div class="b" style="left:613.40px;top:431px;width:0;height:300px;border-left:0.5px dotted #f3f3f7"></div><div class="b" style="left:689.70px;top:431px;width:0;height:300px;border-left:0.5px dotted #f3f3f7"></div><div class="b" style="left:766.00px;top:431px;width:0;height:300px;border-left:0.5px dotted #f3f3f7"></div><div class="b" style="left:842.30px;top:431px;width:0;height:300px;border-left:0.5px dotted #f3f3f7"></div><div class="b" style="left:918.60px;top:431px;width:0;height:300px;border-left:0.5px dotted #f3f3f7"></div><div class="b" style="left:994.90px;top:431px;width:0;height:300px;border-left:0.5px dotted #f3f3f7"></div><div class="b" style="left:1071.20px;top:431px;width:0;height:300px;border-left:0.5px dotted #f3f3f7"></div><div class="b" style="left:156px;top:507.50px;width:970px;height:0;border-top:0.5px dotted #f3f3f7"></div><div class="b" style="left:156px;top:584.90px;width:970px;height:0;border-top:0.5px dotted #f3f3f7"></div><div class="b" style="left:156px;top:662.20px;width:970px;height:0;border-top:0.5px dotted #f3f3f7"></div><span class="t" style="left:70.60px;top:464.15px;font-size:8.80px;line-height:8.80px;color:#222;transform:scaleX(0.8560);">Haus1A</span><span class="t" style="left:70.60px;top:580.75px;font-size:8.80px;line-height:8.80px;color:#222;transform:scaleX(0.8560);">Haus1B</span><span class="t" style="left:121.91px;top:462.18px;font-size:6.40px;line-height:6.40px;color:#222;transform:scaleX(0.8600);">Haus1A</span><span class="t" style="left:112.00px;top:468.98px;font-size:6.40px;line-height:6.40px;color:#222;transform:scaleX(0.8790);">Obergeschoss1</span><span class="t" style="left:121.91px;top:539.48px;font-size:6.40px;line-height:6.40px;color:#222;transform:scaleX(0.8600);">Haus1B</span><span class="t" style="left:112.00px;top:546.28px;font-size:6.40px;line-height:6.40px;color:#222;transform:scaleX(0.8790);">Obergeschoss3</span><span class="t" style="left:121.91px;top:616.48px;font-size:6.40px;line-height:6.40px;color:#222;transform:scaleX(0.8600);">Haus1B</span><span class="t" style="left:112.00px;top:623.28px;font-size:6.40px;line-height:6.40px;color:#222;transform:scaleX(0.8790);">Obergeschoss4</span><span class="t" style="left:121.76px;top:694.78px;font-size:6.40px;line-height:6.40px;color:#222;transform:scaleX(0.8600);">Haus1C</span><span class="t" style="left:112.00px;top:701.48px;font-size:6.40px;line-height:6.40px;color:#222;transform:scaleX(0.8790);">Obergeschoss2</span><span class="t" style="left:49.10px;top:635.34px;font-size:7.6px;line-height:7.6px;color:#222;transform-origin:0 0;transform:rotate(-90deg) scaleX(0.9)">Aufgabe</span><div class="b" style="left:157.20px;top:432.00px;width:73.30px;height:17.00px;background:#cfd9f1;border-radius:1.6px;"></div><span class="t" style="left:163.70px;top:434.23px;font-size:5.90px;line-height:5.90px;font-weight:bold;color:#a9afbb;transform:scaleX(0.8800);">Betonstahl 500 S, liefern</span><span class="t" style="left:177.69px;top:441.03px;font-size:5.90px;line-height:5.90px;font-weight:bold;color:#a9afbb;transform:scaleX(0.8800);">und verlegen</span><svg class="b" style="left:188.65px;top:435.80px" width="11" height="9" viewBox="0 0 11 9"><path d="M0.700 5.200L3.600 8L10.300 0.900" fill="none" stroke="#111" stroke-width="1.350"/></svg><div class="b" style="left:157.20px;top:450.70px;width:73.30px;height:17.00px;background:#faecc3;border-radius:1.6px;"></div><span class="t" style="left:170.07px;top:452.39px;font-size:2.90px;line-height:2.90px;color:#b9b4a8;transform:scaleX(0.8800);">Leibungsschalung für Öffnungen > 2,5m2,</span><span class="t" style="left:162.02px;top:455.99px;font-size:2.90px;line-height:2.90px;color:#b9b4a8;transform:scaleX(0.8800);">Wandschalung, Aussteifungsstützen, Wandhöhe von 3,5</span><span class="t" style="left:169.71px;top:459.59px;font-size:2.90px;line-height:2.90px;color:#b9b4a8;transform:scaleX(0.8800);">m, Wandschalung, Höhe zwischen 3,50 m,</span><span class="t" style="left:175.46px;top:463.19px;font-size:2.90px;line-height:2.90px;color:#b9b4a8;transform:scaleX(0.8800);">Wandschalung, Höhe bis 2,95 m</span><svg class="b" style="left:188.65px;top:454.50px" width="11" height="9" viewBox="0 0 11 9"><path d="M0.700 5.200L3.600 8L10.300 0.900" fill="none" stroke="#111" stroke-width="1.350"/></svg><div class="b" style="left:157.20px;top:469.40px;width:73.30px;height:17.00px;background:#aaaaaa;border-radius:1.6px;"></div><span class="t" style="left:163.42px;top:473.55px;font-size:4.00px;line-height:4.00px;color:#fff;transform:scaleX(0.8800);">Leibungs-Ergänzungspaschtel KS 175,</span><span class="t" style="left:164.47px;top:478.35px;font-size:4.00px;line-height:4.00px;color:#fff;transform:scaleX(0.8800);">Zulage Wandvorlage, bis 0,25*0,50 m</span><svg class="b" style="left:188.65px;top:473.20px" width="11" height="9" viewBox="0 0 11 9"><path d="M0.700 5.200L3.600 8L10.300 0.900" fill="none" stroke="#111" stroke-width="1.350"/></svg><div class="b" style="left:157.20px;top:488.10px;width:73.30px;height:17.00px;background:#cde3bd;border-radius:1.6px;"></div><span class="t" style="left:164.72px;top:491.29px;font-size:3.10px;line-height:3.10px;color:#a9bfa0;transform:scaleX(0.8800);">Leibungen 17,5 cm für Öffnungen <2,5m2, HBT-</span><span class="t" style="left:162.84px;top:495.09px;font-size:3.10px;line-height:3.10px;color:#a9bfa0;transform:scaleX(0.8800);">Schienen, Rückbiegeanschluss, 1-reihig liefern und</span><span class="t" style="left:188.24px;top:498.89px;font-size:3.10px;line-height:3.10px;color:#a9bfa0;transform:scaleX(0.8800);">einbauen</span><svg class="b" style="left:188.65px;top:491.90px" width="11" height="9" viewBox="0 0 11 9"><path d="M0.700 5.200L3.600 8L10.300 0.900" fill="none" stroke="#111" stroke-width="1.350"/></svg><div class="b" style="left:233.50px;top:432.00px;width:73.30px;height:23.30px;background:#cfd9f1;border-radius:1.6px;"></div><span class="t" style="left:243.37px;top:435.81px;font-size:4.60px;line-height:4.60px;color:#a9afbb;transform:scaleX(0.8800);">Betonstahl in Elementdecken,</span><span class="t" style="left:244.16px;top:441.41px;font-size:4.60px;line-height:4.60px;color:#a9afbb;transform:scaleX(0.8800);">Betonstahl 500 S, liefern und</span><span class="t" style="left:262.39px;top:447.01px;font-size:4.60px;line-height:4.60px;color:#a9afbb;transform:scaleX(0.8800);">verlegen</span><svg class="b" style="left:264.95px;top:438.95px" width="11" height="9" viewBox="0 0 11 9"><path d="M0.700 5.200L3.600 8L10.300 0.900" fill="none" stroke="#111" stroke-width="1.350"/></svg><div class="b" style="left:233.50px;top:456.70px;width:73.30px;height:23.30px;background:#aaaaaa;border-radius:1.6px;"></div><span class="t" style="left:237.54px;top:462.13px;font-size:5.70px;line-height:5.70px;font-weight:bold;color:#fff;transform:scaleX(0.8800);">HBT-Schienen, 1-reihig, FT-</span><span class="t" style="left:251.62px;top:469.03px;font-size:5.70px;line-height:5.70px;font-weight:bold;color:#fff;transform:scaleX(0.8800);">Fuge abdichten</span><svg class="b" style="left:264.95px;top:463.65px" width="11" height="9" viewBox="0 0 11 9"><path d="M0.700 5.200L3.600 8L10.300 0.900" fill="none" stroke="#111" stroke-width="1.350"/></svg><div class="b" style="left:233.50px;top:481.40px;width:73.30px;height:23.30px;background:#cde3bd;border-radius:1.6px;"></div><span class="t" style="left:243.65px;top:484.55px;font-size:3.60px;line-height:3.60px;color:#a9bfa0;transform:scaleX(0.8800);">HBT-Schienen, Rückbiegeanschluss ,</span><span class="t" style="left:244.17px;top:489.05px;font-size:3.60px;line-height:3.60px;color:#a9bfa0;transform:scaleX(0.8800);">Spannstelle Vermörteln , Spannstelle</span><span class="t" style="left:240.45px;top:493.55px;font-size:3.60px;line-height:3.60px;color:#a9bfa0;transform:scaleX(0.8800);">Vermörteln, Betonage Wand 20 bis 30 cm,</span><span class="t" style="left:265.04px;top:498.05px;font-size:3.60px;line-height:3.60px;color:#a9bfa0;transform:scaleX(0.8800);">C30/37</span><svg class="b" style="left:264.95px;top:488.35px" width="11" height="9" viewBox="0 0 11 9"><path d="M0.700 5.200L3.600 8L10.300 0.900" fill="none" stroke="#111" stroke-width="1.350"/></svg><div class="b" style="left:309.80px;top:432.00px;width:73.30px;height:17.00px;background:#cfd9f1;border-radius:1.6px;"></div><span class="t" style="left:318.14px;top:435.66px;font-size:4.40px;line-height:4.40px;color:#a9afbb;transform:scaleX(0.8800);">Rückbiegeanschlüsse ausbiegen</span><span class="t" style="left:333.21px;top:441.06px;font-size:4.40px;line-height:4.40px;color:#a9afbb;transform:scaleX(0.8800);">aus Fertigteilen</span><svg class="b" style="left:341.25px;top:435.80px" width="11" height="9" viewBox="0 0 11 9"><path d="M0.700 5.200L3.600 8L10.300 0.900" fill="none" stroke="#111" stroke-width="1.350"/></svg><div class="b" style="left:309.80px;top:450.70px;width:73.30px;height:17.00px;background:#f5bad6;border-radius:1.6px;"></div><span class="t" style="left:320.43px;top:453.20px;font-size:3.50px;line-height:3.50px;color:#fff;transform:scaleX(0.8800);">Decke lichte Höhe bis 2,7 m, Dicke 30</span><span class="t" style="left:321.54px;top:457.50px;font-size:3.50px;line-height:3.50px;color:#fff;transform:scaleX(0.8800);">cm, Joche stellen und Verlegung der</span><span class="t" style="left:336.69px;top:461.80px;font-size:3.50px;line-height:3.50px;color:#fff;transform:scaleX(0.8800);">Elementdecke</span><svg class="b" style="left:341.25px;top:454.50px" width="11" height="9" viewBox="0 0 11 9"><path d="M0.700 5.200L3.600 8L10.300 0.900" fill="none" stroke="#111" stroke-width="1.350"/></svg><div class="b" style="left:309.80px;top:469.40px;width:73.30px;height:17.00px;background:#faecc3;border-radius:1.6px;"></div><span class="t" style="left:313.95px;top:470.45px;font-size:7.30px;line-height:7.30px;color:#b9b4a8;transform:scaleX(0.8800);">Schalung Deckenrand,</span><span class="t" style="left:324.13px;top:478.25px;font-size:7.30px;line-height:7.30px;color:#b9b4a8;transform:scaleX(0.8800);">Höhe bis 30 cm</span><svg class="b" style="left:341.25px;top:473.20px" width="11" height="9" viewBox="0 0 11 9"><path d="M0.700 5.200L3.600 8L10.300 0.900" fill="none" stroke="#111" stroke-width="1.350"/></svg><div class="b" style="left:309.80px;top:488.10px;width:73.30px;height:17.00px;background:#cde3bd;border-radius:1.6px;"></div><span class="t" style="left:322.48px;top:490.58px;font-size:5.60px;line-height:5.60px;color:#a9bfa0;transform:scaleX(0.8800);">Rückbiegeanschlüsse</span><span class="t" style="left:335.08px;top:497.18px;font-size:5.60px;line-height:5.60px;color:#a9bfa0;transform:scaleX(0.8800);">ausbiegen</span><svg class="b" style="left:341.25px;top:491.90px" width="11" height="9" viewBox="0 0 11 9"><path d="M0.700 5.200L3.600 8L10.300 0.900" fill="none" stroke="#111" stroke-width="1.350"/></svg><div class="b" style="left:386.10px;top:432.00px;width:73.30px;height:17.00px;background:#e8298c;border-radius:1.6px;"></div><span class="t" style="left:395.09px;top:436.25px;font-size:3.90px;line-height:3.90px;color:#fff;transform:scaleX(0.8800);">FT-Treppenpodest, Typ 2 liefern und</span><span class="t" style="left:399.28px;top:440.95px;font-size:3.90px;line-height:3.90px;color:#fff;transform:scaleX(0.8800);">Montieren, Auflager Tronsole Z</span><div class="b" style="left:386.10px;top:450.70px;width:73.30px;height:17.00px;background:#efbf17;border-radius:1.6px;"></div><span class="t" style="left:390.25px;top:451.75px;font-size:7.30px;line-height:7.30px;color:#111;transform:scaleX(0.8800);-webkit-text-stroke:0.16px currentColor;">Schalung Deckenrand,</span><span class="t" style="left:400.43px;top:459.55px;font-size:7.30px;line-height:7.30px;color:#111;transform:scaleX(0.8800);-webkit-text-stroke:0.16px currentColor;">Höhe bis 30 cm</span><div class="b" style="left:386.10px;top:469.40px;width:73.30px;height:17.00px;background:#000;border-radius:1.6px;"></div><span class="t" style="left:398.26px;top:473.75px;font-size:3.80px;line-height:3.80px;color:#fff;transform:scaleX(0.8800);">Durchbruch anlegen < 25*25 cm,</span><span class="t" style="left:397.23px;top:478.35px;font-size:3.80px;line-height:3.80px;color:#fff;transform:scaleX(0.8800);">Schweißbahn anlegen < 50*50 cm</span><div class="b" style="left:386.10px;top:488.10px;width:73.30px;height:17.00px;background:#5fb432;border-radius:1.6px;"></div><span class="t" style="left:396.69px;top:490.30px;font-size:3.70px;line-height:3.70px;color:#14501a;transform:scaleX(0.8800);">Betonage Decke bis 25 cm, C30/37,</span><span class="t" style="left:397.86px;top:494.80px;font-size:3.70px;line-height:3.70px;color:#14501a;transform:scaleX(0.8800);">Schöck Tronsole, inkl. Aussparung</span><span class="t" style="left:415.78px;top:499.30px;font-size:3.70px;line-height:3.70px;color:#14501a;transform:scaleX(0.8800);">schließen</span><div class="b" style="left:157.20px;top:510.00px;width:73.30px;height:36.00px;background:#f5bad6;border-radius:1.6px;"></div><span class="t" style="left:158.57px;top:514.74px;font-size:6.30px;line-height:6.30px;color:#fff;transform:scaleX(0.8800);">Decke lichte Höhe bis 2,7 m,</span><span class="t" style="left:160.88px;top:521.54px;font-size:6.30px;line-height:6.30px;color:#fff;transform:scaleX(0.8800);">Dicke 30 cm, Joche stellen</span><span class="t" style="left:171.19px;top:528.34px;font-size:6.30px;line-height:6.30px;color:#fff;transform:scaleX(0.8800);">und Verlegung der</span><span class="t" style="left:176.28px;top:535.14px;font-size:6.30px;line-height:6.30px;color:#fff;transform:scaleX(0.8800);">Elementdecke</span><svg class="b" style="left:188.65px;top:523.30px" width="11" height="9" viewBox="0 0 11 9"><path d="M0.700 5.200L3.600 8L10.300 0.900" fill="none" stroke="#111" stroke-width="1.350"/></svg><div class="b" style="left:157.20px;top:547.40px;width:73.30px;height:36.00px;background:#faecc3;border-radius:1.6px;"></div><span class="t" style="left:178.80px;top:552.41px;font-size:8.20px;line-height:8.20px;color:#b9b4a8;transform:scaleX(0.8800);">Schalung</span><span class="t" style="left:163.76px;top:561.41px;font-size:8.20px;line-height:8.20px;color:#b9b4a8;transform:scaleX(0.8800);">Deckenrand, Höhe</span><span class="t" style="left:178.41px;top:570.41px;font-size:8.20px;line-height:8.20px;color:#b9b4a8;transform:scaleX(0.8800);">bis 30 cm</span><svg class="b" style="left:188.65px;top:560.70px" width="11" height="9" viewBox="0 0 11 9"><path d="M0.700 5.200L3.600 8L10.300 0.900" fill="none" stroke="#111" stroke-width="1.350"/></svg><div class="b" style="left:233.50px;top:510.00px;width:73.30px;height:36.00px;background:#cde3bd;border-radius:1.6px;"></div><span class="t" style="left:237.07px;top:519.41px;font-size:8.40px;line-height:8.40px;color:#a9bfa0;transform:scaleX(0.8800);">Betonage Decke bis</span><span class="t" style="left:246.11px;top:528.41px;font-size:8.40px;line-height:8.40px;color:#a9bfa0;transform:scaleX(0.8800);">25 cm, C30/37</span><svg class="b" style="left:264.95px;top:523.30px" width="11" height="9" viewBox="0 0 11 9"><path d="M0.700 5.200L3.600 8L10.300 0.900" fill="none" stroke="#111" stroke-width="1.350"/></svg><div class="b" style="left:233.50px;top:547.40px;width:73.30px;height:36.00px;background:#aaaaaa;border-radius:1.6px;"></div><span class="t" style="left:236.54px;top:554.05px;font-size:7.10px;line-height:7.10px;color:#fff;transform:scaleX(0.8800);">Schweißbahn anlegen <</span><span class="t" style="left:239.07px;top:561.95px;font-size:7.10px;line-height:7.10px;color:#fff;transform:scaleX(0.8800);">50*50 cm, Durchbruch</span><span class="t" style="left:242.27px;top:569.85px;font-size:7.10px;line-height:7.10px;color:#fff;transform:scaleX(0.8800);">anlegen < 25*25 cm</span><svg class="b" style="left:264.95px;top:560.70px" width="11" height="9" viewBox="0 0 11 9"><path d="M0.700 5.200L3.600 8L10.300 0.900" fill="none" stroke="#111" stroke-width="1.350"/></svg><div class="b" style="left:309.80px;top:510.00px;width:73.30px;height:73.40px;background:#f5bad6;border-radius:1.6px;"></div><span class="t" style="left:318.98px;top:533.66px;font-size:8.30px;line-height:8.30px;color:#fff;transform:scaleX(0.8800);">FT Balkon Typ 2,</span><span class="t" style="left:313.15px;top:542.66px;font-size:8.30px;line-height:8.30px;color:#fff;transform:scaleX(0.8800);">liefern und Montage,</span><span class="t" style="left:321.89px;top:551.66px;font-size:8.30px;line-height:8.30px;color:#fff;transform:scaleX(0.8800);">Höhe bis 3,9 m</span><svg class="b" style="left:341.25px;top:542.00px" width="11" height="9" viewBox="0 0 11 9"><path d="M0.700 5.200L3.600 8L10.300 0.900" fill="none" stroke="#111" stroke-width="1.350"/></svg><div class="b" style="left:309.80px;top:586.40px;width:73.30px;height:13.20px;background:#f5bad6;border-radius:1.6px;"></div><span class="t" style="left:318.47px;top:588.31px;font-size:4.30px;line-height:4.30px;color:#fff;transform:scaleX(0.8800);">Montage Fertigteiltreppe, gerade,</span><span class="t" style="left:340.77px;top:593.51px;font-size:4.30px;line-height:4.30px;color:#fff;transform:scaleX(0.8800);">Typ 18</span><svg class="b" style="left:341.25px;top:588.30px" width="11" height="9" viewBox="0 0 11 9"><path d="M0.700 5.200L3.600 8L10.300 0.900" fill="none" stroke="#111" stroke-width="1.350"/></svg><div class="b" style="left:309.80px;top:601.30px;width:73.30px;height:13.20px;background:#aaaaaa;border-radius:1.6px;"></div><span class="t" style="left:317.26px;top:606.00px;font-size:3.90px;line-height:3.90px;color:#fff;transform:scaleX(0.8800);">Leibungs-Ergänzungspaschtel KS 175</span><svg class="b" style="left:341.25px;top:603.20px" width="11" height="9" viewBox="0 0 11 9"><path d="M0.700 5.200L3.600 8L10.300 0.900" fill="none" stroke="#111" stroke-width="1.350"/></svg><div class="b" style="left:309.80px;top:616.20px;width:73.30px;height:13.20px;background:#cfd9f1;border-radius:1.6px;"></div><span class="t" style="left:321.59px;top:618.06px;font-size:4.40px;line-height:4.40px;color:#a9afbb;transform:scaleX(0.8800);">Betonstahl 500 S, liefern und</span><span class="t" style="left:339.02px;top:623.26px;font-size:4.40px;line-height:4.40px;color:#a9afbb;transform:scaleX(0.8800);">verlegen</span><svg class="b" style="left:341.25px;top:618.10px" width="11" height="9" viewBox="0 0 11 9"><path d="M0.700 5.200L3.600 8L10.300 0.900" fill="none" stroke="#111" stroke-width="1.350"/></svg><div class="b" style="left:309.80px;top:631.10px;width:73.30px;height:13.20px;background:#cde3bd;border-radius:1.6px;"></div><span class="t" style="left:317.64px;top:632.96px;font-size:4.40px;line-height:4.40px;color:#a9bfa0;transform:scaleX(0.8800);">Leibungen 17,5 cm für Öffnungen</span><span class="t" style="left:339.40px;top:638.16px;font-size:4.40px;line-height:4.40px;color:#a9bfa0;transform:scaleX(0.8800);">>2,5 m2</span><svg class="b" style="left:341.25px;top:633.00px" width="11" height="9" viewBox="0 0 11 9"><path d="M0.700 5.200L3.600 8L10.300 0.900" fill="none" stroke="#111" stroke-width="1.350"/></svg><div class="b" style="left:309.80px;top:646.00px;width:73.30px;height:13.20px;background:#faecc3;border-radius:1.6px;"></div><span class="t" style="left:314.42px;top:649.54px;font-size:2.60px;line-height:2.60px;color:#b9b4a8;transform:scaleX(0.8800);">Wandschalung, Konsol-/Vorgefertigte Wand, 1 Geschoss 18-25</span><span class="t" style="left:323.86px;top:653.14px;font-size:2.60px;line-height:2.60px;color:#b9b4a8;transform:scaleX(0.8800);">m, Leibungsschalung für Öffnungen > 2,5m2</span><svg class="b" style="left:341.25px;top:647.90px" width="11" height="9" viewBox="0 0 11 9"><path d="M0.700 5.200L3.600 8L10.300 0.900" fill="none" stroke="#111" stroke-width="1.350"/></svg><div class="b" style="left:386.10px;top:586.40px;width:73.30px;height:17.00px;background:#000;border-radius:1.6px;"></div><span class="t" style="left:398.70px;top:587.79px;font-size:6.80px;line-height:6.80px;color:#fff;transform:scaleX(0.8800);-webkit-text-stroke:0.16px currentColor;">TW-Platte, 40 mm</span><span class="t" style="left:409.22px;top:595.39px;font-size:6.80px;line-height:6.80px;color:#fff;transform:scaleX(0.8800);-webkit-text-stroke:0.16px currentColor;">Trennfuge</span><div class="b" style="left:386.10px;top:605.00px;width:73.30px;height:17.00px;background:#e3111c;border-radius:1.6px;"></div><span class="t" style="left:394.81px;top:608.86px;font-size:4.20px;line-height:4.20px;font-weight:bold;color:#fff;transform:scaleX(0.8800);">KS U-Schalenstein 17,5 cm incl.</span><span class="t" style="left:405.35px;top:614.06px;font-size:4.20px;line-height:4.20px;font-weight:bold;color:#fff;transform:scaleX(0.8800);">Beton + Bewehrung</span><div class="b" style="left:386.10px;top:623.60px;width:73.30px;height:17.00px;background:#5fb432;border-radius:1.6px;"></div><span class="t" style="left:395.44px;top:625.90px;font-size:3.50px;line-height:3.50px;color:#14501a;transform:scaleX(0.8800);">Horizontalabdichtung Mauerwerk , HBT-</span><span class="t" style="left:395.36px;top:630.40px;font-size:3.50px;line-height:3.50px;color:#14501a;transform:scaleX(0.8800);">Schienen, Rückbiegeanschluss, 1-reihig</span><span class="t" style="left:408.79px;top:634.90px;font-size:3.50px;line-height:3.50px;color:#14501a;transform:scaleX(0.8800);">liefern und einbauen</span><div class="b" style="left:386.10px;top:642.20px;width:73.30px;height:17.00px;background:#efbf17;border-radius:1.6px;"></div><span class="t" style="left:392.58px;top:643.25px;font-size:7.20px;line-height:7.20px;color:#111;transform:scaleX(0.8800);-webkit-text-stroke:0.16px currentColor;">Wandschalung, Höhe</span><span class="t" style="left:408.13px;top:651.15px;font-size:7.20px;line-height:7.20px;color:#111;transform:scaleX(0.8800);-webkit-text-stroke:0.16px currentColor;">bis 2,95 m</span><div class="b" style="left:462.40px;top:586.40px;width:73.30px;height:35.60px;background:#e3111c;border-radius:1.6px;"></div><span class="t" style="left:467.66px;top:592.94px;font-size:6.90px;line-height:6.90px;color:#fff;transform:scaleX(0.8800);-webkit-text-stroke:0.16px currentColor;">KS Stein 175, Höhe bis</span><span class="t" style="left:471.20px;top:600.84px;font-size:6.90px;line-height:6.90px;color:#fff;transform:scaleX(0.8800);-webkit-text-stroke:0.16px currentColor;">3,0 m, KS Stein 240,</span><span class="t" style="left:478.63px;top:608.74px;font-size:6.90px;line-height:6.90px;color:#fff;transform:scaleX(0.8800);-webkit-text-stroke:0.16px currentColor;">Höhe bis 3,0 m</span><div class="b" style="left:462.40px;top:623.60px;width:73.30px;height:35.60px;background:#5fb432;border-radius:1.6px;"></div><span class="t" style="left:477.48px;top:625.71px;font-size:4.50px;line-height:4.50px;color:#14501a;transform:scaleX(0.8800);">Spannstelle Vermörteln ,</span><span class="t" style="left:475.02px;top:631.11px;font-size:4.50px;line-height:4.50px;color:#14501a;transform:scaleX(0.8800);">Wanddurchbruch schließen</span><span class="t" style="left:471.33px;top:636.51px;font-size:4.50px;line-height:4.50px;color:#14501a;transform:scaleX(0.8800);"><25x25 cm, Betonage Wand 20</span><span class="t" style="left:481.99px;top:641.91px;font-size:4.50px;line-height:4.50px;color:#14501a;transform:scaleX(0.8800);">bis 30 cm, C30/37 ,</span><span class="t" style="left:475.02px;top:647.31px;font-size:4.50px;line-height:4.50px;color:#14501a;transform:scaleX(0.8800);">Wanddurchbruch schließen</span><span class="t" style="left:489.31px;top:652.71px;font-size:4.50px;line-height:4.50px;color:#14501a;transform:scaleX(0.8800);"><50x50 cm</span><div class="b" style="left:691.30px;top:586.40px;width:73.30px;height:13.20px;background:#000;border-radius:1.6px;"></div><span class="t" style="left:698.76px;top:591.10px;font-size:3.90px;line-height:3.90px;color:#fff;transform:scaleX(0.8800);">Leibungs-Ergänzungspaschtel KS 175</span><div class="b" style="left:691.30px;top:601.30px;width:73.30px;height:13.20px;background:#e3111c;border-radius:1.6px;"></div><span class="t" style="left:704.96px;top:603.55px;font-size:3.90px;line-height:3.90px;color:#fff;transform:scaleX(0.8800);">KS Stein 175, Höhe bis 3,0 m,</span><span class="t" style="left:702.30px;top:608.45px;font-size:3.90px;line-height:3.90px;color:#fff;transform:scaleX(0.8800);">Pfeilermauerwerk, 24-50 cm, 2DF</span><div class="b" style="left:691.30px;top:616.20px;width:73.30px;height:13.20px;background:#6b8fce;border-radius:1.6px;"></div><span class="t" style="left:701.39px;top:617.81px;font-size:4.70px;line-height:4.70px;color:#1c2a4a;transform:scaleX(0.8800);">Betonstahl 500 S, liefern und</span><span class="t" style="left:720.02px;top:623.21px;font-size:4.70px;line-height:4.70px;color:#1c2a4a;transform:scaleX(0.8800);">verlegen</span><div class="b" style="left:691.30px;top:631.10px;width:73.30px;height:13.20px;background:#5fb432;border-radius:1.6px;"></div><span class="t" style="left:703.96px;top:632.69px;font-size:2.90px;line-height:2.90px;color:#14501a;transform:scaleX(0.8800);">Leibungen 17,5 cm für Öffnungen <2,5m2,</span><span class="t" style="left:708.94px;top:636.29px;font-size:2.90px;line-height:2.90px;color:#14501a;transform:scaleX(0.8800);">Horizontalabdichtung Mauerwerk,</span><span class="t" style="left:709.29px;top:639.89px;font-size:2.90px;line-height:2.90px;color:#14501a;transform:scaleX(0.8800);">Rückbiegeanschlüsse ausbiegen</span><div class="b" style="left:691.30px;top:646.00px;width:73.30px;height:13.20px;background:#efbf17;border-radius:1.6px;"></div><span class="t" style="left:698.09px;top:647.61px;font-size:4.70px;line-height:4.70px;color:#111;transform:scaleX(0.8800);">Leibungsschalung für Öffnungen</span><span class="t" style="left:720.42px;top:653.01px;font-size:4.70px;line-height:4.70px;color:#111;transform:scaleX(0.8800);">> 2,5m2</span><div class="b" style="left:767.60px;top:586.40px;width:73.30px;height:17.00px;background:#000;border-radius:1.6px;"></div><span class="t" style="left:775.09px;top:587.59px;font-size:7.00px;line-height:7.00px;color:#fff;transform:scaleX(0.8800);-webkit-text-stroke:0.16px currentColor;">Zulage Wandvorlage,</span><span class="t" style="left:782.85px;top:595.39px;font-size:7.00px;line-height:7.00px;color:#fff;transform:scaleX(0.8800);-webkit-text-stroke:0.16px currentColor;">bis 0,25*0,50 m</span><div class="b" style="left:767.60px;top:605.00px;width:73.30px;height:17.00px;background:#e3111c;border-radius:1.6px;"></div><span class="t" style="left:778.36px;top:607.25px;font-size:3.60px;line-height:3.60px;color:#fff;transform:scaleX(0.8800);">KS Stein 240, Höhe bis 3,0 m, KS U-</span><span class="t" style="left:779.90px;top:611.75px;font-size:3.60px;line-height:3.60px;color:#fff;transform:scaleX(0.8800);">Schalenstein 17,5 cm incl. Beton +</span><span class="t" style="left:796.24px;top:616.25px;font-size:3.60px;line-height:3.60px;color:#fff;transform:scaleX(0.8800);">Bewehrung</span><div class="b" style="left:767.60px;top:623.60px;width:73.30px;height:17.00px;background:#5fb432;border-radius:1.6px;"></div><span class="t" style="left:773.24px;top:627.65px;font-size:4.00px;line-height:4.00px;color:#14501a;transform:scaleX(0.8800);">HBT-Schienen, Rückbiegeanschluss, 1-</span><span class="t" style="left:783.50px;top:632.65px;font-size:4.00px;line-height:4.00px;color:#14501a;transform:scaleX(0.8800);">reihig liefern und einbauen</span><div class="b" style="left:767.60px;top:642.20px;width:73.30px;height:17.00px;background:#efbf17;border-radius:1.6px;"></div><span class="t" style="left:777.36px;top:645.74px;font-size:2.80px;line-height:2.80px;color:#111;transform:scaleX(0.8800);">Wandschalung, Höhe bis 2,95 m, Wandschalung,</span><span class="t" style="left:776.90px;top:649.34px;font-size:2.80px;line-height:2.80px;color:#111;transform:scaleX(0.8800);">Gerüste Höhe bis 2,95 m, Wandschalung, Konsol-</span><span class="t" style="left:782.72px;top:652.94px;font-size:2.80px;line-height:2.80px;color:#111;transform:scaleX(0.8800);">/Vorgefertigte Wand, 1 Geschoss 18-25</span><div class="b" style="left:843.90px;top:586.40px;width:73.30px;height:23.60px;background:#000;border-radius:1.6px;"></div><span class="t" style="left:850.01px;top:592.08px;font-size:5.60px;line-height:5.60px;color:#fff;transform:scaleX(0.8800);-webkit-text-stroke:0.16px currentColor;">HBT-Schienen, 1-reihig, FT-</span><span class="t" style="left:863.56px;top:598.88px;font-size:5.60px;line-height:5.60px;color:#fff;transform:scaleX(0.8800);-webkit-text-stroke:0.16px currentColor;">Fuge abdichten</span><div class="b" style="left:843.90px;top:611.30px;width:73.30px;height:23.60px;background:#6b8fce;border-radius:1.6px;"></div><span class="t" style="left:851.30px;top:616.63px;font-size:6.10px;line-height:6.10px;color:#1c2a4a;transform:scaleX(0.8800);-webkit-text-stroke:0.16px currentColor;">Betonstahl 500 S, liefern</span><span class="t" style="left:865.03px;top:623.63px;font-size:6.10px;line-height:6.10px;color:#1c2a4a;transform:scaleX(0.8800);-webkit-text-stroke:0.16px currentColor;">und verlegen</span><div class="b" style="left:843.90px;top:636.20px;width:73.30px;height:23.60px;background:#5fb432;border-radius:1.6px;"></div><span class="t" style="left:850.40px;top:639.10px;font-size:3.80px;line-height:3.80px;color:#14501a;transform:scaleX(0.8800);">Spannstelle Vermörteln, Betonage Wand</span><span class="t" style="left:855.08px;top:643.80px;font-size:3.80px;line-height:3.80px;color:#14501a;transform:scaleX(0.8800);">20 bis 30 cm, C30/37, Spannstelle</span><span class="t" style="left:851.61px;top:648.50px;font-size:3.80px;line-height:3.80px;color:#14501a;transform:scaleX(0.8800);">Vermörteln , C30/37 Wandbeton, Dicke</span><span class="t" style="left:875.02px;top:653.20px;font-size:3.80px;line-height:3.80px;color:#14501a;transform:scaleX(0.8800);">>20 cm</span><div class="b" style="left:920.20px;top:586.40px;width:73.30px;height:13.20px;background:#000;border-radius:1.6px;"></div><span class="t" style="left:927.66px;top:591.10px;font-size:3.90px;line-height:3.90px;color:#fff;transform:scaleX(0.8800);">Leibungs-Ergänzungspaschtel KS 175</span><div class="b" style="left:920.20px;top:601.30px;width:73.30px;height:13.20px;background:#e3111c;border-radius:1.6px;"></div><span class="t" style="left:928.57px;top:605.52px;font-size:4.90px;line-height:4.90px;color:#fff;transform:scaleX(0.8800);">KS Stein 175, Höhe bis 3,0 m</span><div class="b" style="left:920.20px;top:616.20px;width:73.30px;height:13.20px;background:#6b8fce;border-radius:1.6px;"></div><span class="t" style="left:926.61px;top:617.81px;font-size:4.70px;line-height:4.70px;color:#1c2a4a;transform:scaleX(0.8800);">Rückbiegeanschlüsse ausbiegen</span><span class="t" style="left:942.71px;top:623.21px;font-size:4.70px;line-height:4.70px;color:#1c2a4a;transform:scaleX(0.8800);">aus Fertigteilen</span><div class="b" style="left:920.20px;top:631.10px;width:73.30px;height:13.20px;background:#5fb432;border-radius:1.6px;"></div><span class="t" style="left:924.93px;top:634.44px;font-size:2.90px;line-height:2.90px;color:#14501a;transform:scaleX(0.8800);">HBT-Schienen, Rückbiegeanschluss, 1-reihig liefern und</span><span class="t" style="left:932.23px;top:638.14px;font-size:2.90px;line-height:2.90px;color:#14501a;transform:scaleX(0.8800);">einbauen, Rückbiegeanschlüsse ausbiegen</span><div class="b" style="left:920.20px;top:646.00px;width:73.30px;height:13.20px;background:#efbf17;border-radius:1.6px;"></div><span class="t" style="left:933.07px;top:647.59px;font-size:2.90px;line-height:2.90px;color:#111;transform:scaleX(0.8800);">Leibungsschalung für Öffnungen > 2,5m2,</span><span class="t" style="left:925.40px;top:651.19px;font-size:2.90px;line-height:2.90px;color:#111;transform:scaleX(0.8800);">Wandschalung, Höhe bis 2,95 m, Betonage der Stützen</span><span class="t" style="left:950.96px;top:654.79px;font-size:2.90px;line-height:2.90px;color:#111;transform:scaleX(0.8800);">bis 3,95 m</span><div class="b" style="left:996.50px;top:586.40px;width:73.30px;height:73.00px;background:#5fb432;border-radius:1.6px;"></div><span class="t" style="left:1003.91px;top:606.33px;font-size:6.10px;line-height:6.10px;color:#14501a;transform:scaleX(0.8800);-webkit-text-stroke:0.16px currentColor;">Spannstelle Vermörteln ,</span><span class="t" style="left:1002.71px;top:613.13px;font-size:6.10px;line-height:6.10px;color:#14501a;transform:scaleX(0.8800);-webkit-text-stroke:0.16px currentColor;">C30/37 Stützen bis 50*50</span><span class="t" style="left:1001.97px;top:619.93px;font-size:6.10px;line-height:6.10px;color:#14501a;transform:scaleX(0.8800);-webkit-text-stroke:0.16px currentColor;">cm, Rückbiegeanschlüsse</span><span class="t" style="left:1000.12px;top:626.73px;font-size:6.10px;line-height:6.10px;color:#14501a;transform:scaleX(0.8800);-webkit-text-stroke:0.16px currentColor;">ausbiegen, Betonage Wand</span><span class="t" style="left:1007.79px;top:633.53px;font-size:6.10px;line-height:6.10px;color:#14501a;transform:scaleX(0.8800);-webkit-text-stroke:0.16px currentColor;">20 bis 30 cm, C30/37</span><div class="b" style="left:157.20px;top:664.40px;width:73.30px;height:23.50px;background:#cfd9f1;border-radius:1.6px;"></div><span class="t" style="left:174.77px;top:668.05px;font-size:7.50px;line-height:7.50px;color:#a9afbb;transform:scaleX(0.8800);">Betonstahl in</span><span class="t" style="left:171.10px;top:676.95px;font-size:7.50px;line-height:7.50px;color:#a9afbb;transform:scaleX(0.8800);">Elementdecken</span><svg class="b" style="left:188.65px;top:671.45px" width="11" height="9" viewBox="0 0 11 9"><path d="M0.700 5.200L3.600 8L10.300 0.900" fill="none" stroke="#111" stroke-width="1.350"/></svg><div class="b" style="left:157.20px;top:689.40px;width:73.30px;height:23.50px;background:#f5bad6;border-radius:1.6px;"></div><span class="t" style="left:165.75px;top:695.10px;font-size:3.40px;line-height:3.40px;color:#fff;transform:scaleX(0.8800);">Decke lichte Höhe bis 2,7 m, Dicke 30 cm,</span><span class="t" style="left:172.47px;top:699.50px;font-size:3.40px;line-height:3.40px;color:#fff;transform:scaleX(0.8800);">Joche stellen und Verlegung der</span><span class="t" style="left:184.37px;top:703.90px;font-size:3.40px;line-height:3.40px;color:#fff;transform:scaleX(0.8800);">Elementdecke</span><svg class="b" style="left:188.65px;top:696.45px" width="11" height="9" viewBox="0 0 11 9"><path d="M0.700 5.200L3.600 8L10.300 0.900" fill="none" stroke="#111" stroke-width="1.350"/></svg><div class="b" style="left:233.50px;top:664.40px;width:73.30px;height:35.80px;background:#cde3bd;border-radius:1.6px;"></div><span class="t" style="left:237.86px;top:673.86px;font-size:8.20px;line-height:8.20px;color:#a9bfa0;transform:scaleX(0.8800);">Betonage Decke bis</span><span class="t" style="left:246.68px;top:682.76px;font-size:8.20px;line-height:8.20px;color:#a9bfa0;transform:scaleX(0.8800);">25 cm, C30/37</span><svg class="b" style="left:264.95px;top:677.60px" width="11" height="9" viewBox="0 0 11 9"><path d="M0.700 5.200L3.600 8L10.300 0.900" fill="none" stroke="#111" stroke-width="1.350"/></svg><div class="b" style="left:233.50px;top:701.90px;width:73.30px;height:36.10px;background:#aaaaaa;border-radius:1.6px;"></div><span class="t" style="left:270.15px;top:717.52px;font-size:5.00px;line-height:5.00px;color:#fff;transform:scaleX(1.0000);"></span></div></div>
</div>
</body></html>
